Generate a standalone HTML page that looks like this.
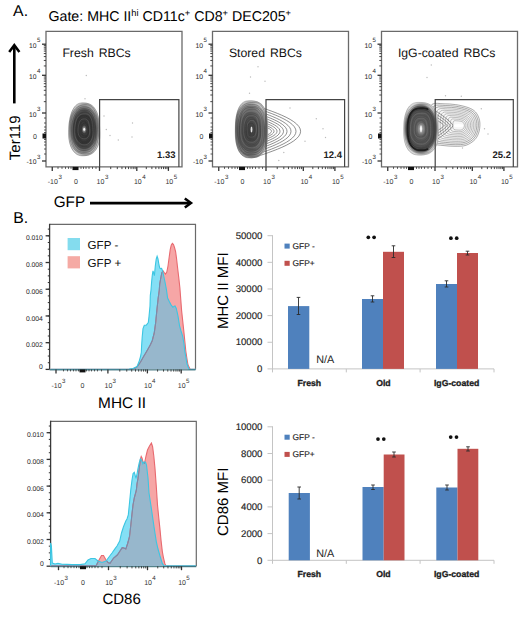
<!DOCTYPE html>
<html><head><meta charset="utf-8"><title>Figure</title>
<style>html,body{margin:0;padding:0;background:#fff;}svg{display:block;font-family:'Liberation Sans',sans-serif;text-rendering:geometricPrecision;}</style>
</head><body>
<svg width="520" height="617" viewBox="0 0 520 617">
<rect width="520" height="617" fill="#fff"/>
<text x="13.1" y="16.2" font-size="15.8" text-anchor="start" font-weight="normal" fill="#000" >A.</text>
<text x="48.5" y="20.6" font-size="14.2" fill="#000">Gate: MHC II<tspan font-size="9.3" dy="-5">hi</tspan><tspan dy="5"> CD11c</tspan><tspan font-size="9.3" dy="-5">+</tspan><tspan dy="5"> CD8</tspan><tspan font-size="9.3" dy="-5">+</tspan><tspan dy="5"> DEC205</tspan><tspan font-size="9.3" dy="-5">+</tspan></text>
<defs><radialGradient id="gb" cx="0.5" cy="0.5" r="0.5"><stop offset="0" stop-color="#fff"/><stop offset="0.05" stop-color="#999"/><stop offset="0.16" stop-color="#3a3a3a"/><stop offset="0.55" stop-color="#363636"/><stop offset="0.7" stop-color="#4c4c4c"/><stop offset="0.8" stop-color="#757575"/><stop offset="0.9" stop-color="#9c9c9c"/><stop offset="0.97" stop-color="#b4b4b4"/><stop offset="1" stop-color="#c8c8c8"/></radialGradient><radialGradient id="gb2" cx="0.46" cy="0.54" r="0.55"><stop offset="0" stop-color="#3a3a3a"/><stop offset="0.25" stop-color="#444"/><stop offset="0.55" stop-color="#555"/><stop offset="0.75" stop-color="#767676"/><stop offset="0.88" stop-color="#a0a0a0"/><stop offset="1" stop-color="#cccccc"/></radialGradient><radialGradient id="gb3" cx="0.5" cy="0.5" r="0.5"><stop offset="0" stop-color="#f0f0f0"/><stop offset="0.1" stop-color="#999"/><stop offset="0.3" stop-color="#5a5a5a"/><stop offset="0.68" stop-color="#505050"/><stop offset="0.8" stop-color="#505050"/><stop offset="0.86" stop-color="#666"/><stop offset="0.93" stop-color="#a8a8a8"/><stop offset="1" stop-color="#d8d8d8"/></radialGradient></defs>
<path d="M46,31.4 H182 V166.9 H46 Z" fill="none" stroke="#6a6a6a" stroke-width="1.3"/>
<line x1="42" y1="44.2" x2="46" y2="44.2" stroke="#333" stroke-width="1.3" />
<line x1="42" y1="75.3" x2="46" y2="75.3" stroke="#333" stroke-width="1.3" />
<line x1="42" y1="113" x2="46" y2="113" stroke="#333" stroke-width="1.3" />
<line x1="42" y1="161" x2="46" y2="161" stroke="#333" stroke-width="1.3" />
<line x1="43.8" y1="101.65" x2="46" y2="101.65" stroke="#333" stroke-width="0.9" />
<line x1="43.8" y1="95.01" x2="46" y2="95.01" stroke="#333" stroke-width="0.9" />
<line x1="43.8" y1="90.3" x2="46" y2="90.3" stroke="#333" stroke-width="0.9" />
<line x1="43.8" y1="86.65" x2="46" y2="86.65" stroke="#333" stroke-width="0.9" />
<line x1="43.8" y1="83.66" x2="46" y2="83.66" stroke="#333" stroke-width="0.9" />
<line x1="43.8" y1="81.14" x2="46" y2="81.14" stroke="#333" stroke-width="0.9" />
<line x1="43.8" y1="78.95" x2="46" y2="78.95" stroke="#333" stroke-width="0.9" />
<line x1="43.8" y1="77.03" x2="46" y2="77.03" stroke="#333" stroke-width="0.9" />
<line x1="43.8" y1="65.94" x2="46" y2="65.94" stroke="#333" stroke-width="0.9" />
<line x1="43.8" y1="60.46" x2="46" y2="60.46" stroke="#333" stroke-width="0.9" />
<line x1="43.8" y1="56.58" x2="46" y2="56.58" stroke="#333" stroke-width="0.9" />
<line x1="43.8" y1="53.56" x2="46" y2="53.56" stroke="#333" stroke-width="0.9" />
<line x1="43.8" y1="51.1" x2="46" y2="51.1" stroke="#333" stroke-width="0.9" />
<line x1="43.8" y1="49.02" x2="46" y2="49.02" stroke="#333" stroke-width="0.9" />
<line x1="43.8" y1="47.21" x2="46" y2="47.21" stroke="#333" stroke-width="0.9" />
<line x1="43.8" y1="45.62" x2="46" y2="45.62" stroke="#333" stroke-width="0.9" />
<line x1="44" y1="118" x2="46" y2="118" stroke="#333" stroke-width="0.8" />
<line x1="44" y1="123" x2="46" y2="123" stroke="#333" stroke-width="0.8" />
<line x1="44" y1="127" x2="46" y2="127" stroke="#333" stroke-width="0.8" />
<line x1="44" y1="130" x2="46" y2="130" stroke="#333" stroke-width="0.8" />
<line x1="44" y1="132.5" x2="46" y2="132.5" stroke="#333" stroke-width="0.8" />
<line x1="44" y1="139.5" x2="46" y2="139.5" stroke="#333" stroke-width="0.8" />
<line x1="44" y1="142" x2="46" y2="142" stroke="#333" stroke-width="0.8" />
<line x1="44" y1="145" x2="46" y2="145" stroke="#333" stroke-width="0.8" />
<line x1="44" y1="149" x2="46" y2="149" stroke="#333" stroke-width="0.8" />
<line x1="44" y1="154" x2="46" y2="154" stroke="#333" stroke-width="0.8" />
<rect x="42.5" y="133.5" width="3.5" height="5" fill="#111" stroke="none" stroke-width="1" />
<line x1="52.25" y1="166.9" x2="52.25" y2="170.9" stroke="#333" stroke-width="1.3" />
<line x1="99.5" y1="166.9" x2="99.5" y2="170.9" stroke="#333" stroke-width="1.3" />
<line x1="136.8" y1="166.9" x2="136.8" y2="170.9" stroke="#333" stroke-width="1.3" />
<line x1="168.4" y1="166.9" x2="168.4" y2="170.9" stroke="#333" stroke-width="1.3" />
<line x1="110.73" y1="166.9" x2="110.73" y2="169.1" stroke="#333" stroke-width="0.9" />
<line x1="117.3" y1="166.9" x2="117.3" y2="169.1" stroke="#333" stroke-width="0.9" />
<line x1="121.96" y1="166.9" x2="121.96" y2="169.1" stroke="#333" stroke-width="0.9" />
<line x1="125.57" y1="166.9" x2="125.57" y2="169.1" stroke="#333" stroke-width="0.9" />
<line x1="128.53" y1="166.9" x2="128.53" y2="169.1" stroke="#333" stroke-width="0.9" />
<line x1="131.02" y1="166.9" x2="131.02" y2="169.1" stroke="#333" stroke-width="0.9" />
<line x1="133.19" y1="166.9" x2="133.19" y2="169.1" stroke="#333" stroke-width="0.9" />
<line x1="135.09" y1="166.9" x2="135.09" y2="169.1" stroke="#333" stroke-width="0.9" />
<line x1="146.31" y1="166.9" x2="146.31" y2="169.1" stroke="#333" stroke-width="0.9" />
<line x1="151.88" y1="166.9" x2="151.88" y2="169.1" stroke="#333" stroke-width="0.9" />
<line x1="155.83" y1="166.9" x2="155.83" y2="169.1" stroke="#333" stroke-width="0.9" />
<line x1="158.89" y1="166.9" x2="158.89" y2="169.1" stroke="#333" stroke-width="0.9" />
<line x1="161.39" y1="166.9" x2="161.39" y2="169.1" stroke="#333" stroke-width="0.9" />
<line x1="163.51" y1="166.9" x2="163.51" y2="169.1" stroke="#333" stroke-width="0.9" />
<line x1="165.34" y1="166.9" x2="165.34" y2="169.1" stroke="#333" stroke-width="0.9" />
<line x1="166.95" y1="166.9" x2="166.95" y2="169.1" stroke="#333" stroke-width="0.9" />
<line x1="58" y1="166.9" x2="58" y2="168.9" stroke="#333" stroke-width="0.8" />
<line x1="62" y1="166.9" x2="62" y2="168.9" stroke="#333" stroke-width="0.8" />
<line x1="65.5" y1="166.9" x2="65.5" y2="168.9" stroke="#333" stroke-width="0.8" />
<line x1="68.5" y1="166.9" x2="68.5" y2="168.9" stroke="#333" stroke-width="0.8" />
<line x1="71" y1="166.9" x2="71" y2="168.9" stroke="#333" stroke-width="0.8" />
<line x1="73.5" y1="166.9" x2="73.5" y2="168.9" stroke="#333" stroke-width="0.8" />
<line x1="81" y1="166.9" x2="81" y2="168.9" stroke="#333" stroke-width="0.8" />
<line x1="83.5" y1="166.9" x2="83.5" y2="168.9" stroke="#333" stroke-width="0.8" />
<line x1="86" y1="166.9" x2="86" y2="168.9" stroke="#333" stroke-width="0.8" />
<line x1="89" y1="166.9" x2="89" y2="168.9" stroke="#333" stroke-width="0.8" />
<line x1="92.5" y1="166.9" x2="92.5" y2="168.9" stroke="#333" stroke-width="0.8" />
<line x1="96" y1="166.9" x2="96" y2="168.9" stroke="#333" stroke-width="0.8" />
<rect x="72.5" y="166.9" width="6" height="3.2" fill="#111" stroke="none" stroke-width="1" />
<text x="40.5" y="47.9" font-size="6.8" text-anchor="end" fill="#2a2a2a">10<tspan font-size="6.2" dx="0.6" dy="-5.6">5</tspan></text>
<text x="40.5" y="79" font-size="6.8" text-anchor="end" fill="#2a2a2a">10<tspan font-size="6.2" dx="0.6" dy="-5.6">4</tspan></text>
<text x="40.5" y="116.6" font-size="6.8" text-anchor="end" fill="#2a2a2a">10<tspan font-size="6.2" dx="0.6" dy="-5.6">3</tspan></text>
<text x="36.9" y="138.8" font-size="7" text-anchor="end" font-weight="normal" fill="#333" >0</text>
<text x="40.5" y="164.2" font-size="6.8" text-anchor="end" fill="#2a2a2a">-10<tspan font-size="6.2" dx="0.6" dy="-5.6">3</tspan></text>
<text x="54.85" y="184.3" font-size="7" text-anchor="middle" fill="#333">-10<tspan font-size="6.2" dx="0.6" dy="-5.6">3</tspan></text>
<text x="102.5" y="184.3" font-size="7" text-anchor="middle" fill="#333">10<tspan font-size="6.2" dx="0.6" dy="-5.6">3</tspan></text>
<text x="139.8" y="184.3" font-size="7" text-anchor="middle" fill="#333">10<tspan font-size="6.2" dx="0.6" dy="-5.6">4</tspan></text>
<text x="171.4" y="184.3" font-size="7" text-anchor="middle" fill="#333">10<tspan font-size="6.2" dx="0.6" dy="-5.6">5</tspan></text>
<text x="76" y="184.3" font-size="7" text-anchor="middle" font-weight="normal" fill="#333" >0</text>
<path d="M212.5,31.4 H348.5 V166.9 H212.5 Z" fill="none" stroke="#6a6a6a" stroke-width="1.3"/>
<line x1="208.5" y1="44.2" x2="212.5" y2="44.2" stroke="#333" stroke-width="1.3" />
<line x1="208.5" y1="75.3" x2="212.5" y2="75.3" stroke="#333" stroke-width="1.3" />
<line x1="208.5" y1="113" x2="212.5" y2="113" stroke="#333" stroke-width="1.3" />
<line x1="208.5" y1="161" x2="212.5" y2="161" stroke="#333" stroke-width="1.3" />
<line x1="210.3" y1="101.65" x2="212.5" y2="101.65" stroke="#333" stroke-width="0.9" />
<line x1="210.3" y1="95.01" x2="212.5" y2="95.01" stroke="#333" stroke-width="0.9" />
<line x1="210.3" y1="90.3" x2="212.5" y2="90.3" stroke="#333" stroke-width="0.9" />
<line x1="210.3" y1="86.65" x2="212.5" y2="86.65" stroke="#333" stroke-width="0.9" />
<line x1="210.3" y1="83.66" x2="212.5" y2="83.66" stroke="#333" stroke-width="0.9" />
<line x1="210.3" y1="81.14" x2="212.5" y2="81.14" stroke="#333" stroke-width="0.9" />
<line x1="210.3" y1="78.95" x2="212.5" y2="78.95" stroke="#333" stroke-width="0.9" />
<line x1="210.3" y1="77.03" x2="212.5" y2="77.03" stroke="#333" stroke-width="0.9" />
<line x1="210.3" y1="65.94" x2="212.5" y2="65.94" stroke="#333" stroke-width="0.9" />
<line x1="210.3" y1="60.46" x2="212.5" y2="60.46" stroke="#333" stroke-width="0.9" />
<line x1="210.3" y1="56.58" x2="212.5" y2="56.58" stroke="#333" stroke-width="0.9" />
<line x1="210.3" y1="53.56" x2="212.5" y2="53.56" stroke="#333" stroke-width="0.9" />
<line x1="210.3" y1="51.1" x2="212.5" y2="51.1" stroke="#333" stroke-width="0.9" />
<line x1="210.3" y1="49.02" x2="212.5" y2="49.02" stroke="#333" stroke-width="0.9" />
<line x1="210.3" y1="47.21" x2="212.5" y2="47.21" stroke="#333" stroke-width="0.9" />
<line x1="210.3" y1="45.62" x2="212.5" y2="45.62" stroke="#333" stroke-width="0.9" />
<line x1="210.5" y1="118" x2="212.5" y2="118" stroke="#333" stroke-width="0.8" />
<line x1="210.5" y1="123" x2="212.5" y2="123" stroke="#333" stroke-width="0.8" />
<line x1="210.5" y1="127" x2="212.5" y2="127" stroke="#333" stroke-width="0.8" />
<line x1="210.5" y1="130" x2="212.5" y2="130" stroke="#333" stroke-width="0.8" />
<line x1="210.5" y1="132.5" x2="212.5" y2="132.5" stroke="#333" stroke-width="0.8" />
<line x1="210.5" y1="139.5" x2="212.5" y2="139.5" stroke="#333" stroke-width="0.8" />
<line x1="210.5" y1="142" x2="212.5" y2="142" stroke="#333" stroke-width="0.8" />
<line x1="210.5" y1="145" x2="212.5" y2="145" stroke="#333" stroke-width="0.8" />
<line x1="210.5" y1="149" x2="212.5" y2="149" stroke="#333" stroke-width="0.8" />
<line x1="210.5" y1="154" x2="212.5" y2="154" stroke="#333" stroke-width="0.8" />
<rect x="209" y="133.5" width="3.5" height="5" fill="#111" stroke="none" stroke-width="1" />
<line x1="218.75" y1="166.9" x2="218.75" y2="170.9" stroke="#333" stroke-width="1.3" />
<line x1="266" y1="166.9" x2="266" y2="170.9" stroke="#333" stroke-width="1.3" />
<line x1="303.3" y1="166.9" x2="303.3" y2="170.9" stroke="#333" stroke-width="1.3" />
<line x1="334.9" y1="166.9" x2="334.9" y2="170.9" stroke="#333" stroke-width="1.3" />
<line x1="277.23" y1="166.9" x2="277.23" y2="169.1" stroke="#333" stroke-width="0.9" />
<line x1="283.8" y1="166.9" x2="283.8" y2="169.1" stroke="#333" stroke-width="0.9" />
<line x1="288.46" y1="166.9" x2="288.46" y2="169.1" stroke="#333" stroke-width="0.9" />
<line x1="292.07" y1="166.9" x2="292.07" y2="169.1" stroke="#333" stroke-width="0.9" />
<line x1="295.03" y1="166.9" x2="295.03" y2="169.1" stroke="#333" stroke-width="0.9" />
<line x1="297.52" y1="166.9" x2="297.52" y2="169.1" stroke="#333" stroke-width="0.9" />
<line x1="299.69" y1="166.9" x2="299.69" y2="169.1" stroke="#333" stroke-width="0.9" />
<line x1="301.59" y1="166.9" x2="301.59" y2="169.1" stroke="#333" stroke-width="0.9" />
<line x1="312.81" y1="166.9" x2="312.81" y2="169.1" stroke="#333" stroke-width="0.9" />
<line x1="318.38" y1="166.9" x2="318.38" y2="169.1" stroke="#333" stroke-width="0.9" />
<line x1="322.33" y1="166.9" x2="322.33" y2="169.1" stroke="#333" stroke-width="0.9" />
<line x1="325.39" y1="166.9" x2="325.39" y2="169.1" stroke="#333" stroke-width="0.9" />
<line x1="327.89" y1="166.9" x2="327.89" y2="169.1" stroke="#333" stroke-width="0.9" />
<line x1="330.01" y1="166.9" x2="330.01" y2="169.1" stroke="#333" stroke-width="0.9" />
<line x1="331.84" y1="166.9" x2="331.84" y2="169.1" stroke="#333" stroke-width="0.9" />
<line x1="333.45" y1="166.9" x2="333.45" y2="169.1" stroke="#333" stroke-width="0.9" />
<line x1="224.5" y1="166.9" x2="224.5" y2="168.9" stroke="#333" stroke-width="0.8" />
<line x1="228.5" y1="166.9" x2="228.5" y2="168.9" stroke="#333" stroke-width="0.8" />
<line x1="232" y1="166.9" x2="232" y2="168.9" stroke="#333" stroke-width="0.8" />
<line x1="235" y1="166.9" x2="235" y2="168.9" stroke="#333" stroke-width="0.8" />
<line x1="237.5" y1="166.9" x2="237.5" y2="168.9" stroke="#333" stroke-width="0.8" />
<line x1="240" y1="166.9" x2="240" y2="168.9" stroke="#333" stroke-width="0.8" />
<line x1="247.5" y1="166.9" x2="247.5" y2="168.9" stroke="#333" stroke-width="0.8" />
<line x1="250" y1="166.9" x2="250" y2="168.9" stroke="#333" stroke-width="0.8" />
<line x1="252.5" y1="166.9" x2="252.5" y2="168.9" stroke="#333" stroke-width="0.8" />
<line x1="255.5" y1="166.9" x2="255.5" y2="168.9" stroke="#333" stroke-width="0.8" />
<line x1="259" y1="166.9" x2="259" y2="168.9" stroke="#333" stroke-width="0.8" />
<line x1="262.5" y1="166.9" x2="262.5" y2="168.9" stroke="#333" stroke-width="0.8" />
<rect x="239" y="166.9" width="6" height="3.2" fill="#111" stroke="none" stroke-width="1" />
<text x="207" y="47.9" font-size="6.8" text-anchor="end" fill="#2a2a2a">10<tspan font-size="6.2" dx="0.6" dy="-5.6">5</tspan></text>
<text x="207" y="79" font-size="6.8" text-anchor="end" fill="#2a2a2a">10<tspan font-size="6.2" dx="0.6" dy="-5.6">4</tspan></text>
<text x="207" y="116.6" font-size="6.8" text-anchor="end" fill="#2a2a2a">10<tspan font-size="6.2" dx="0.6" dy="-5.6">3</tspan></text>
<text x="203.4" y="138.8" font-size="7" text-anchor="end" font-weight="normal" fill="#333" >0</text>
<text x="207" y="164.2" font-size="6.8" text-anchor="end" fill="#2a2a2a">-10<tspan font-size="6.2" dx="0.6" dy="-5.6">3</tspan></text>
<text x="221.35" y="184.3" font-size="7" text-anchor="middle" fill="#333">-10<tspan font-size="6.2" dx="0.6" dy="-5.6">3</tspan></text>
<text x="269" y="184.3" font-size="7" text-anchor="middle" fill="#333">10<tspan font-size="6.2" dx="0.6" dy="-5.6">3</tspan></text>
<text x="306.3" y="184.3" font-size="7" text-anchor="middle" fill="#333">10<tspan font-size="6.2" dx="0.6" dy="-5.6">4</tspan></text>
<text x="337.9" y="184.3" font-size="7" text-anchor="middle" fill="#333">10<tspan font-size="6.2" dx="0.6" dy="-5.6">5</tspan></text>
<text x="242.5" y="184.3" font-size="7" text-anchor="middle" font-weight="normal" fill="#333" >0</text>
<path d="M381.5,31.4 H517.5 V166.9 H381.5 Z" fill="none" stroke="#6a6a6a" stroke-width="1.3"/>
<line x1="377.5" y1="44.2" x2="381.5" y2="44.2" stroke="#333" stroke-width="1.3" />
<line x1="377.5" y1="75.3" x2="381.5" y2="75.3" stroke="#333" stroke-width="1.3" />
<line x1="377.5" y1="113" x2="381.5" y2="113" stroke="#333" stroke-width="1.3" />
<line x1="377.5" y1="161" x2="381.5" y2="161" stroke="#333" stroke-width="1.3" />
<line x1="379.3" y1="101.65" x2="381.5" y2="101.65" stroke="#333" stroke-width="0.9" />
<line x1="379.3" y1="95.01" x2="381.5" y2="95.01" stroke="#333" stroke-width="0.9" />
<line x1="379.3" y1="90.3" x2="381.5" y2="90.3" stroke="#333" stroke-width="0.9" />
<line x1="379.3" y1="86.65" x2="381.5" y2="86.65" stroke="#333" stroke-width="0.9" />
<line x1="379.3" y1="83.66" x2="381.5" y2="83.66" stroke="#333" stroke-width="0.9" />
<line x1="379.3" y1="81.14" x2="381.5" y2="81.14" stroke="#333" stroke-width="0.9" />
<line x1="379.3" y1="78.95" x2="381.5" y2="78.95" stroke="#333" stroke-width="0.9" />
<line x1="379.3" y1="77.03" x2="381.5" y2="77.03" stroke="#333" stroke-width="0.9" />
<line x1="379.3" y1="65.94" x2="381.5" y2="65.94" stroke="#333" stroke-width="0.9" />
<line x1="379.3" y1="60.46" x2="381.5" y2="60.46" stroke="#333" stroke-width="0.9" />
<line x1="379.3" y1="56.58" x2="381.5" y2="56.58" stroke="#333" stroke-width="0.9" />
<line x1="379.3" y1="53.56" x2="381.5" y2="53.56" stroke="#333" stroke-width="0.9" />
<line x1="379.3" y1="51.1" x2="381.5" y2="51.1" stroke="#333" stroke-width="0.9" />
<line x1="379.3" y1="49.02" x2="381.5" y2="49.02" stroke="#333" stroke-width="0.9" />
<line x1="379.3" y1="47.21" x2="381.5" y2="47.21" stroke="#333" stroke-width="0.9" />
<line x1="379.3" y1="45.62" x2="381.5" y2="45.62" stroke="#333" stroke-width="0.9" />
<line x1="379.5" y1="118" x2="381.5" y2="118" stroke="#333" stroke-width="0.8" />
<line x1="379.5" y1="123" x2="381.5" y2="123" stroke="#333" stroke-width="0.8" />
<line x1="379.5" y1="127" x2="381.5" y2="127" stroke="#333" stroke-width="0.8" />
<line x1="379.5" y1="130" x2="381.5" y2="130" stroke="#333" stroke-width="0.8" />
<line x1="379.5" y1="132.5" x2="381.5" y2="132.5" stroke="#333" stroke-width="0.8" />
<line x1="379.5" y1="139.5" x2="381.5" y2="139.5" stroke="#333" stroke-width="0.8" />
<line x1="379.5" y1="142" x2="381.5" y2="142" stroke="#333" stroke-width="0.8" />
<line x1="379.5" y1="145" x2="381.5" y2="145" stroke="#333" stroke-width="0.8" />
<line x1="379.5" y1="149" x2="381.5" y2="149" stroke="#333" stroke-width="0.8" />
<line x1="379.5" y1="154" x2="381.5" y2="154" stroke="#333" stroke-width="0.8" />
<rect x="378" y="133.5" width="3.5" height="5" fill="#111" stroke="none" stroke-width="1" />
<line x1="387.75" y1="166.9" x2="387.75" y2="170.9" stroke="#333" stroke-width="1.3" />
<line x1="435" y1="166.9" x2="435" y2="170.9" stroke="#333" stroke-width="1.3" />
<line x1="472.3" y1="166.9" x2="472.3" y2="170.9" stroke="#333" stroke-width="1.3" />
<line x1="503.9" y1="166.9" x2="503.9" y2="170.9" stroke="#333" stroke-width="1.3" />
<line x1="446.23" y1="166.9" x2="446.23" y2="169.1" stroke="#333" stroke-width="0.9" />
<line x1="452.8" y1="166.9" x2="452.8" y2="169.1" stroke="#333" stroke-width="0.9" />
<line x1="457.46" y1="166.9" x2="457.46" y2="169.1" stroke="#333" stroke-width="0.9" />
<line x1="461.07" y1="166.9" x2="461.07" y2="169.1" stroke="#333" stroke-width="0.9" />
<line x1="464.03" y1="166.9" x2="464.03" y2="169.1" stroke="#333" stroke-width="0.9" />
<line x1="466.52" y1="166.9" x2="466.52" y2="169.1" stroke="#333" stroke-width="0.9" />
<line x1="468.69" y1="166.9" x2="468.69" y2="169.1" stroke="#333" stroke-width="0.9" />
<line x1="470.59" y1="166.9" x2="470.59" y2="169.1" stroke="#333" stroke-width="0.9" />
<line x1="481.81" y1="166.9" x2="481.81" y2="169.1" stroke="#333" stroke-width="0.9" />
<line x1="487.38" y1="166.9" x2="487.38" y2="169.1" stroke="#333" stroke-width="0.9" />
<line x1="491.33" y1="166.9" x2="491.33" y2="169.1" stroke="#333" stroke-width="0.9" />
<line x1="494.39" y1="166.9" x2="494.39" y2="169.1" stroke="#333" stroke-width="0.9" />
<line x1="496.89" y1="166.9" x2="496.89" y2="169.1" stroke="#333" stroke-width="0.9" />
<line x1="499.01" y1="166.9" x2="499.01" y2="169.1" stroke="#333" stroke-width="0.9" />
<line x1="500.84" y1="166.9" x2="500.84" y2="169.1" stroke="#333" stroke-width="0.9" />
<line x1="502.45" y1="166.9" x2="502.45" y2="169.1" stroke="#333" stroke-width="0.9" />
<line x1="393.5" y1="166.9" x2="393.5" y2="168.9" stroke="#333" stroke-width="0.8" />
<line x1="397.5" y1="166.9" x2="397.5" y2="168.9" stroke="#333" stroke-width="0.8" />
<line x1="401" y1="166.9" x2="401" y2="168.9" stroke="#333" stroke-width="0.8" />
<line x1="404" y1="166.9" x2="404" y2="168.9" stroke="#333" stroke-width="0.8" />
<line x1="406.5" y1="166.9" x2="406.5" y2="168.9" stroke="#333" stroke-width="0.8" />
<line x1="409" y1="166.9" x2="409" y2="168.9" stroke="#333" stroke-width="0.8" />
<line x1="416.5" y1="166.9" x2="416.5" y2="168.9" stroke="#333" stroke-width="0.8" />
<line x1="419" y1="166.9" x2="419" y2="168.9" stroke="#333" stroke-width="0.8" />
<line x1="421.5" y1="166.9" x2="421.5" y2="168.9" stroke="#333" stroke-width="0.8" />
<line x1="424.5" y1="166.9" x2="424.5" y2="168.9" stroke="#333" stroke-width="0.8" />
<line x1="428" y1="166.9" x2="428" y2="168.9" stroke="#333" stroke-width="0.8" />
<line x1="431.5" y1="166.9" x2="431.5" y2="168.9" stroke="#333" stroke-width="0.8" />
<rect x="408" y="166.9" width="6" height="3.2" fill="#111" stroke="none" stroke-width="1" />
<text x="376" y="47.9" font-size="6.8" text-anchor="end" fill="#2a2a2a">10<tspan font-size="6.2" dx="0.6" dy="-5.6">5</tspan></text>
<text x="376" y="79" font-size="6.8" text-anchor="end" fill="#2a2a2a">10<tspan font-size="6.2" dx="0.6" dy="-5.6">4</tspan></text>
<text x="376" y="116.6" font-size="6.8" text-anchor="end" fill="#2a2a2a">10<tspan font-size="6.2" dx="0.6" dy="-5.6">3</tspan></text>
<text x="372.4" y="138.8" font-size="7" text-anchor="end" font-weight="normal" fill="#333" >0</text>
<text x="376" y="164.2" font-size="6.8" text-anchor="end" fill="#2a2a2a">-10<tspan font-size="6.2" dx="0.6" dy="-5.6">3</tspan></text>
<text x="390.35" y="184.3" font-size="7" text-anchor="middle" fill="#333">-10<tspan font-size="6.2" dx="0.6" dy="-5.6">3</tspan></text>
<text x="438" y="184.3" font-size="7" text-anchor="middle" fill="#333">10<tspan font-size="6.2" dx="0.6" dy="-5.6">3</tspan></text>
<text x="475.3" y="184.3" font-size="7" text-anchor="middle" fill="#333">10<tspan font-size="6.2" dx="0.6" dy="-5.6">4</tspan></text>
<text x="506.9" y="184.3" font-size="7" text-anchor="middle" fill="#333">10<tspan font-size="6.2" dx="0.6" dy="-5.6">5</tspan></text>
<text x="411.5" y="184.3" font-size="7" text-anchor="middle" font-weight="normal" fill="#333" >0</text>
<path d="M100,129.4 L100.03,132.89 L99.94,135.61 L99.75,138.06 L99.45,140.32 L99.04,142.43 L98.53,144.38 L97.92,146.2 L97.2,147.87 L96.39,149.4 L95.48,150.78 L94.48,152.01 L93.38,153.08 L92.19,154 L90.91,154.75 L89.52,155.34 L88.02,155.76 L86.35,156.02 L84.2,156.1 L82.05,156.02 L80.38,155.76 L78.88,155.34 L77.49,154.75 L76.21,154 L75.02,153.08 L73.92,152.01 L72.92,150.78 L72.01,149.4 L71.2,147.87 L70.48,146.2 L69.87,144.38 L69.36,142.43 L68.95,140.32 L68.65,138.06 L68.46,135.61 L68.37,132.89 L68.4,129.4 L68.53,125.91 L68.75,123.19 L69.05,120.74 L69.44,118.48 L69.93,116.37 L70.5,114.42 L71.16,112.6 L71.9,110.93 L72.72,109.4 L73.62,108.02 L74.59,106.79 L75.65,105.72 L76.78,104.8 L77.98,104.05 L79.28,103.46 L80.67,103.04 L82.21,102.78 L84.2,102.7 L86.19,102.78 L87.73,103.04 L89.12,103.46 L90.42,104.05 L91.62,104.8 L92.75,105.72 L93.81,106.79 L94.78,108.02 L95.68,109.4 L96.5,110.93 L97.24,112.6 L97.9,114.42 L98.47,116.37 L98.96,118.48 L99.35,120.74 L99.65,123.19 L99.87,125.91Z" fill="url(#gb)"/>
<path d="M99.71,129.4 L99.81,132.87 L99.79,135.6 L99.66,138.07 L99.4,140.37 L99.01,142.5 L98.48,144.45 L97.82,146.22 L97.05,147.8 L96.17,149.2 L95.21,150.42 L94.17,151.5 L93.07,152.45 L91.9,153.28 L90.66,154.01 L89.34,154.63 L87.9,155.15 L86.29,155.53 L84.2,155.75 L82.08,155.79 L80.43,155.64 L78.93,155.27 L77.56,154.7 L76.29,153.94 L75.13,152.98 L74.07,151.87 L73.1,150.61 L72.22,149.21 L71.42,147.69 L70.72,146.05 L70.1,144.26 L69.57,142.34 L69.16,140.26 L68.85,138.01 L68.67,135.57 L68.62,132.87 L68.71,129.4 L68.91,125.96 L69.18,123.32 L69.54,120.96 L69.96,118.78 L70.44,116.74 L70.97,114.82 L71.56,112.99 L72.22,111.26 L72.95,109.64 L73.76,108.14 L74.67,106.79 L75.68,105.61 L76.78,104.64 L77.99,103.88 L79.29,103.34 L80.7,103.02 L82.24,102.89 L84.2,102.95 L86.14,103.16 L87.64,103.51 L88.99,103.98 L90.24,104.57 L91.42,105.29 L92.53,106.15 L93.58,107.16 L94.55,108.32 L95.44,109.66 L96.25,111.16 L96.97,112.82 L97.6,114.63 L98.14,116.58 L98.59,118.67 L98.97,120.89 L99.28,123.29 L99.53,125.95Z" fill="none" stroke="#1a1a1a" stroke-opacity="0.51" stroke-width="0.55"/>
<path d="M98.61,129.34 L98.64,132.55 L98.54,135.03 L98.34,137.27 L98.04,139.32 L97.66,141.24 L97.2,143.03 L96.67,144.72 L96.06,146.3 L95.37,147.79 L94.59,149.17 L93.72,150.41 L92.74,151.5 L91.65,152.41 L90.46,153.12 L89.16,153.61 L87.75,153.9 L86.19,153.98 L84.22,153.88 L82.27,153.64 L80.78,153.26 L79.45,152.78 L78.22,152.21 L77.07,151.55 L75.97,150.79 L74.95,149.91 L73.98,148.9 L73.1,147.74 L72.3,146.42 L71.61,144.92 L71.02,143.26 L70.55,141.44 L70.19,139.47 L69.94,137.36 L69.79,135.08 L69.73,132.56 L69.77,129.34 L69.89,126.12 L70.07,123.61 L70.32,121.33 L70.66,119.22 L71.09,117.26 L71.62,115.44 L72.25,113.79 L72.97,112.3 L73.76,110.97 L74.63,109.8 L75.56,108.79 L76.54,107.9 L77.57,107.13 L78.65,106.45 L79.8,105.86 L81.04,105.37 L82.42,104.98 L84.22,104.73 L86.05,104.64 L87.49,104.73 L88.8,105.03 L90.01,105.54 L91.13,106.27 L92.15,107.19 L93.09,108.29 L93.94,109.54 L94.7,110.92 L95.4,112.41 L96.04,113.99 L96.61,115.67 L97.13,117.46 L97.58,119.37 L97.97,121.42 L98.27,123.65 L98.48,126.13Z" fill="none" stroke="#1a1a1a" stroke-opacity="0.51" stroke-width="0.55"/>
<path d="M97.5,129.5 L97.42,132.46 L97.25,134.72 L97.01,136.74 L96.71,138.6 L96.36,140.35 L95.96,142 L95.5,143.58 L94.97,145.07 L94.36,146.46 L93.65,147.74 L92.84,148.89 L91.94,149.88 L90.93,150.69 L89.83,151.33 L88.64,151.8 L87.35,152.11 L85.93,152.27 L84.11,152.31 L82.29,152.22 L80.88,152.01 L79.6,151.67 L78.42,151.21 L77.32,150.59 L76.3,149.82 L75.37,148.89 L74.54,147.8 L73.81,146.55 L73.18,145.17 L72.64,143.67 L72.19,142.08 L71.81,140.39 L71.5,138.61 L71.24,136.73 L71.03,134.7 L70.89,132.44 L70.82,129.5 L70.83,126.51 L70.91,124.15 L71.09,121.99 L71.39,119.99 L71.79,118.15 L72.31,116.47 L72.92,114.95 L73.61,113.58 L74.37,112.38 L75.19,111.3 L76.05,110.36 L76.96,109.51 L77.91,108.77 L78.92,108.13 L79.99,107.6 L81.15,107.19 L82.44,106.92 L84.11,106.8 L85.78,106.86 L87.08,107.08 L88.25,107.47 L89.33,108 L90.34,108.67 L91.28,109.46 L92.16,110.36 L93,111.36 L93.8,112.46 L94.54,113.69 L95.23,115.04 L95.85,116.54 L96.38,118.19 L96.82,120 L97.15,121.97 L97.37,124.12 L97.48,126.49Z" fill="none" stroke="#1a1a1a" stroke-opacity="0.51" stroke-width="0.55"/>
<path d="M96.16,129.39 L96.2,132.07 L96.17,134.17 L96.08,136.08 L95.91,137.88 L95.67,139.58 L95.33,141.17 L94.89,142.64 L94.35,143.99 L93.71,145.2 L92.99,146.26 L92.19,147.2 L91.32,148.01 L90.39,148.71 L89.39,149.31 L88.32,149.79 L87.15,150.17 L85.86,150.42 L84.17,150.54 L82.49,150.5 L81.18,150.29 L80.01,149.91 L78.94,149.35 L77.98,148.65 L77.1,147.81 L76.31,146.86 L75.59,145.82 L74.93,144.71 L74.32,143.53 L73.75,142.28 L73.23,140.95 L72.76,139.51 L72.35,137.95 L72.01,136.23 L71.78,134.33 L71.65,132.18 L71.64,129.39 L71.75,126.59 L71.96,124.44 L72.26,122.51 L72.63,120.77 L73.08,119.16 L73.57,117.68 L74.12,116.31 L74.7,115.03 L75.34,113.84 L76.02,112.75 L76.76,111.76 L77.56,110.89 L78.43,110.15 L79.36,109.57 L80.37,109.13 L81.45,108.85 L82.65,108.7 L84.17,108.69 L85.7,108.78 L86.88,108.97 L87.96,109.25 L88.98,109.62 L89.94,110.09 L90.86,110.68 L91.74,111.41 L92.55,112.3 L93.29,113.35 L93.95,114.57 L94.51,115.94 L94.98,117.46 L95.35,119.09 L95.63,120.83 L95.84,122.66 L95.99,124.6 L96.09,126.71Z" fill="none" stroke="#1a1a1a" stroke-opacity="0.51" stroke-width="0.55"/>
<path d="M95.69,129.22 L95.8,131.77 L95.8,133.77 L95.69,135.58 L95.46,137.24 L95.13,138.75 L94.7,140.12 L94.18,141.35 L93.6,142.45 L92.96,143.43 L92.27,144.32 L91.55,145.13 L90.78,145.87 L89.96,146.54 L89.08,147.12 L88.12,147.61 L87.08,147.99 L85.91,148.23 L84.39,148.32 L82.87,148.27 L81.69,148.08 L80.63,147.75 L79.66,147.3 L78.76,146.75 L77.91,146.11 L77.13,145.38 L76.39,144.56 L75.7,143.64 L75.07,142.61 L74.52,141.45 L74.05,140.16 L73.67,138.74 L73.4,137.18 L73.23,135.5 L73.17,133.7 L73.2,131.72 L73.32,129.22 L73.5,126.77 L73.71,124.89 L73.95,123.19 L74.22,121.61 L74.52,120.11 L74.85,118.68 L75.24,117.31 L75.69,116.01 L76.21,114.81 L76.81,113.73 L77.48,112.78 L78.23,111.99 L79.05,111.34 L79.93,110.85 L80.87,110.5 L81.88,110.27 L82.98,110.14 L84.39,110.12 L85.8,110.19 L86.89,110.36 L87.88,110.63 L88.8,111.03 L89.67,111.56 L90.46,112.22 L91.2,113.03 L91.86,113.97 L92.46,115.02 L92.99,116.17 L93.46,117.41 L93.89,118.72 L94.28,120.1 L94.64,121.56 L94.96,123.12 L95.25,124.81 L95.5,126.72Z" fill="none" stroke="#1a1a1a" stroke-opacity="0.51" stroke-width="0.55"/>
<path d="M94.2,129.71 L94.19,131.94 L94.11,133.67 L93.98,135.23 L93.81,136.69 L93.59,138.06 L93.32,139.38 L92.99,140.63 L92.6,141.81 L92.13,142.91 L91.58,143.89 L90.93,144.74 L90.21,145.44 L89.4,145.98 L88.53,146.36 L87.6,146.59 L86.61,146.7 L85.54,146.71 L84.18,146.64 L82.84,146.51 L81.8,146.33 L80.86,146.1 L79.97,145.8 L79.14,145.42 L78.35,144.94 L77.61,144.34 L76.93,143.62 L76.32,142.76 L75.79,141.77 L75.34,140.67 L74.96,139.47 L74.65,138.17 L74.41,136.79 L74.22,135.32 L74.08,133.74 L74.01,131.98 L74,129.71 L74.05,127.42 L74.17,125.64 L74.36,124.03 L74.63,122.55 L74.98,121.21 L75.4,119.99 L75.88,118.89 L76.42,117.9 L76.99,117.02 L77.59,116.22 L78.21,115.48 L78.86,114.79 L79.54,114.14 L80.27,113.55 L81.05,113.02 L81.92,112.58 L82.9,112.26 L84.18,112.09 L85.48,112.07 L86.49,112.22 L87.4,112.53 L88.23,112.99 L88.99,113.59 L89.68,114.29 L90.32,115.08 L90.91,115.94 L91.46,116.87 L91.97,117.86 L92.45,118.93 L92.88,120.07 L93.27,121.32 L93.59,122.66 L93.85,124.12 L94.03,125.7 L94.15,127.46Z" fill="none" stroke="#1a1a1a" stroke-opacity="0.30" stroke-width="0.55"/>
<path d="M92.79,129.17 L92.87,131.18 L92.88,132.75 L92.82,134.2 L92.68,135.53 L92.46,136.77 L92.17,137.92 L91.8,138.96 L91.38,139.91 L90.9,140.78 L90.37,141.57 L89.8,142.29 L89.19,142.94 L88.52,143.52 L87.79,144.01 L87,144.41 L86.13,144.68 L85.17,144.82 L83.92,144.82 L82.68,144.68 L81.74,144.42 L80.91,144.05 L80.16,143.59 L79.47,143.06 L78.83,142.49 L78.22,141.87 L77.65,141.22 L77.1,140.51 L76.58,139.74 L76.1,138.88 L75.67,137.92 L75.3,136.84 L75.01,135.64 L74.81,134.31 L74.7,132.86 L74.68,131.24 L74.75,129.17 L74.89,127.13 L75.07,125.57 L75.29,124.18 L75.55,122.89 L75.84,121.7 L76.16,120.57 L76.52,119.51 L76.93,118.53 L77.38,117.63 L77.89,116.82 L78.45,116.12 L79.06,115.53 L79.71,115.05 L80.41,114.67 L81.15,114.38 L81.94,114.16 L82.8,114.01 L83.92,113.92 L85.04,113.88 L85.93,113.91 L86.76,114.02 L87.53,114.24 L88.26,114.59 L88.94,115.07 L89.57,115.7 L90.12,116.47 L90.61,117.36 L91.03,118.35 L91.38,119.43 L91.68,120.57 L91.93,121.76 L92.15,123 L92.35,124.29 L92.52,125.67 L92.67,127.19Z" fill="none" stroke="#9a9a9a" stroke-opacity="0.45" stroke-width="0.55"/>
<path d="M92.18,129.32 L92.17,131.08 L92.11,132.45 L92.02,133.68 L91.89,134.83 L91.71,135.92 L91.47,136.93 L91.18,137.87 L90.83,138.73 L90.41,139.49 L89.95,140.17 L89.43,140.76 L88.87,141.28 L88.28,141.73 L87.65,142.13 L86.97,142.47 L86.23,142.76 L85.4,142.99 L84.31,143.14 L83.21,143.2 L82.34,143.14 L81.56,142.95 L80.84,142.63 L80.2,142.17 L79.62,141.6 L79.11,140.93 L78.67,140.18 L78.28,139.37 L77.93,138.53 L77.62,137.65 L77.33,136.74 L77.06,135.79 L76.82,134.77 L76.61,133.68 L76.44,132.47 L76.34,131.11 L76.3,129.32 L76.33,127.52 L76.43,126.11 L76.59,124.84 L76.81,123.69 L77.08,122.62 L77.39,121.63 L77.73,120.72 L78.11,119.87 L78.52,119.07 L78.96,118.34 L79.44,117.68 L79.96,117.1 L80.53,116.62 L81.15,116.25 L81.82,115.99 L82.53,115.85 L83.32,115.82 L84.31,115.89 L85.29,116.03 L86.04,116.23 L86.71,116.47 L87.35,116.75 L87.95,117.06 L88.54,117.42 L89.11,117.84 L89.66,118.35 L90.17,118.95 L90.64,119.67 L91.06,120.5 L91.41,121.44 L91.69,122.49 L91.89,123.62 L92.04,124.84 L92.13,126.14 L92.17,127.54Z" fill="none" stroke="#1a1a1a" stroke-opacity="0.30" stroke-width="0.55"/>
<path d="M91.5,129.82 L91.56,131.4 L91.55,132.63 L91.48,133.75 L91.34,134.78 L91.13,135.71 L90.86,136.54 L90.53,137.28 L90.15,137.93 L89.74,138.5 L89.31,139.02 L88.86,139.49 L88.4,139.94 L87.91,140.35 L87.38,140.75 L86.82,141.1 L86.19,141.4 L85.48,141.63 L84.54,141.77 L83.59,141.8 L82.85,141.71 L82.18,141.52 L81.58,141.22 L81.03,140.84 L80.52,140.38 L80.06,139.86 L79.63,139.29 L79.24,138.67 L78.89,138 L78.57,137.27 L78.29,136.48 L78.05,135.62 L77.88,134.68 L77.76,133.66 L77.7,132.56 L77.71,131.35 L77.77,129.82 L77.87,128.31 L78,127.14 L78.14,126.1 L78.3,125.12 L78.48,124.19 L78.68,123.29 L78.9,122.42 L79.16,121.59 L79.47,120.82 L79.82,120.11 L80.24,119.5 L80.7,118.99 L81.22,118.6 L81.77,118.33 L82.37,118.17 L83,118.09 L83.68,118.1 L84.54,118.16 L85.39,118.26 L86.04,118.4 L86.64,118.58 L87.2,118.81 L87.72,119.09 L88.23,119.44 L88.7,119.87 L89.13,120.38 L89.53,120.98 L89.88,121.66 L90.19,122.42 L90.46,123.23 L90.7,124.1 L90.91,125.02 L91.1,126.01 L91.26,127.07 L91.39,128.26Z" fill="none" stroke="#1a1a1a" stroke-opacity="0.30" stroke-width="0.55"/>
<path d="M89.69,128.87 L89.77,130.18 L89.79,131.22 L89.76,132.17 L89.67,133.05 L89.52,133.85 L89.32,134.59 L89.06,135.25 L88.77,135.85 L88.45,136.39 L88.1,136.88 L87.72,137.32 L87.32,137.71 L86.89,138.07 L86.42,138.37 L85.92,138.6 L85.36,138.77 L84.75,138.85 L83.96,138.85 L83.18,138.77 L82.58,138.61 L82.05,138.39 L81.56,138.12 L81.11,137.81 L80.69,137.48 L80.29,137.12 L79.9,136.73 L79.52,136.3 L79.17,135.81 L78.85,135.26 L78.57,134.62 L78.35,133.9 L78.18,133.1 L78.07,132.22 L78.03,131.26 L78.05,130.2 L78.13,128.87 L78.24,127.57 L78.37,126.58 L78.52,125.7 L78.69,124.88 L78.86,124.12 L79.05,123.39 L79.27,122.7 L79.51,122.04 L79.78,121.44 L80.09,120.89 L80.44,120.41 L80.83,120.01 L81.24,119.68 L81.69,119.42 L82.16,119.21 L82.67,119.06 L83.24,118.96 L83.96,118.89 L84.69,118.87 L85.27,118.9 L85.79,119 L86.29,119.17 L86.75,119.43 L87.17,119.78 L87.56,120.22 L87.9,120.75 L88.19,121.35 L88.44,122 L88.65,122.7 L88.84,123.42 L89.01,124.16 L89.17,124.94 L89.32,125.75 L89.46,126.62 L89.58,127.59Z" fill="none" stroke="#9a9a9a" stroke-opacity="0.45" stroke-width="0.55"/>
<path d="M88.54,129.66 L88.54,130.73 L88.52,131.55 L88.47,132.3 L88.4,133.01 L88.3,133.68 L88.17,134.31 L88.01,134.9 L87.81,135.45 L87.57,135.94 L87.28,136.35 L86.96,136.69 L86.6,136.96 L86.21,137.16 L85.81,137.29 L85.38,137.38 L84.94,137.44 L84.46,137.48 L83.84,137.51 L83.22,137.53 L82.73,137.52 L82.28,137.49 L81.84,137.4 L81.44,137.26 L81.05,137.04 L80.7,136.74 L80.39,136.37 L80.12,135.93 L79.89,135.42 L79.7,134.87 L79.54,134.28 L79.41,133.65 L79.31,132.99 L79.23,132.3 L79.17,131.55 L79.13,130.73 L79.13,129.66 L79.16,128.59 L79.23,127.76 L79.33,127.02 L79.46,126.34 L79.63,125.72 L79.83,125.16 L80.04,124.64 L80.27,124.16 L80.52,123.72 L80.77,123.29 L81.03,122.88 L81.32,122.49 L81.63,122.13 L81.96,121.81 L82.34,121.54 L82.76,121.34 L83.23,121.23 L83.84,121.2 L84.45,121.27 L84.92,121.42 L85.32,121.64 L85.69,121.92 L86.03,122.23 L86.34,122.57 L86.63,122.93 L86.9,123.31 L87.17,123.71 L87.43,124.14 L87.67,124.61 L87.89,125.12 L88.08,125.69 L88.24,126.32 L88.36,127.01 L88.45,127.76 L88.51,128.59Z" fill="none" stroke="#1a1a1a" stroke-opacity="0.30" stroke-width="0.55"/>
<path d="M88.23,129.67 L88.24,130.5 L88.21,131.14 L88.16,131.72 L88.09,132.25 L88,132.75 L87.89,133.23 L87.77,133.68 L87.62,134.11 L87.45,134.51 L87.25,134.86 L87.02,135.17 L86.76,135.43 L86.47,135.62 L86.15,135.75 L85.82,135.82 L85.46,135.84 L85.08,135.82 L84.6,135.78 L84.12,135.73 L83.75,135.67 L83.42,135.6 L83.1,135.51 L82.79,135.41 L82.5,135.27 L82.22,135.08 L81.96,134.84 L81.73,134.53 L81.53,134.18 L81.36,133.76 L81.23,133.3 L81.13,132.81 L81.06,132.28 L81.02,131.73 L80.99,131.14 L80.98,130.49 L80.99,129.67 L81.01,128.84 L81.05,128.19 L81.12,127.61 L81.2,127.07 L81.32,126.58 L81.46,126.12 L81.63,125.71 L81.81,125.35 L82.02,125.02 L82.23,124.73 L82.45,124.45 L82.68,124.2 L82.93,123.95 L83.19,123.72 L83.47,123.52 L83.78,123.34 L84.13,123.2 L84.6,123.12 L85.07,123.11 L85.44,123.17 L85.76,123.3 L86.06,123.49 L86.32,123.74 L86.56,124.03 L86.78,124.36 L86.97,124.7 L87.16,125.05 L87.33,125.41 L87.5,125.8 L87.66,126.2 L87.81,126.63 L87.94,127.1 L88.06,127.62 L88.14,128.19 L88.2,128.83Z" fill="none" stroke="#1a1a1a" stroke-opacity="0.30" stroke-width="0.55"/>
<ellipse cx="84.2" cy="129.4" rx="1" ry="1.4" fill="#fff" fill-opacity="0.85"/>
<path d="M257,105.8 L257.6,106.15 L259.21,106.77 L261.68,107.65 L264.89,108.76 L268.68,110.1 L272.89,111.64 L277.32,113.36 L281.8,115.25 L286.15,117.28 L290.17,119.43 L293.72,121.69 L296.63,124.02 L298.81,126.41 L300.15,128.85 L300.6,131.3 L300.15,133.75 L298.81,136.19 L296.63,138.58 L293.72,140.91 L290.17,143.17 L286.15,145.32 L281.8,147.35 L277.32,149.24 L272.89,150.96 L268.68,152.5 L264.89,153.84 L261.68,154.95 L259.21,155.83 L257.6,156.45 L257,156.8" fill="none" stroke="#5e5e5e" stroke-width="0.7" stroke-linejoin="round"/>
<path d="M257,108.1 L257.53,108.42 L258.97,108.98 L261.19,109.78 L264.06,110.8 L267.45,112.01 L271.21,113.41 L275.18,114.98 L279.19,116.7 L283.07,118.55 L286.67,120.5 L289.84,122.55 L292.45,124.68 L294.4,126.85 L295.6,129.07 L296,131.3 L295.6,133.53 L294.4,135.75 L292.45,137.92 L289.84,140.05 L286.67,142.1 L283.07,144.05 L279.19,145.9 L275.18,147.62 L271.21,149.19 L267.45,150.59 L264.06,151.8 L261.19,152.82 L258.97,153.62 L257.53,154.18 L257,154.5" fill="none" stroke="#5e5e5e" stroke-width="0.7" stroke-linejoin="round"/>
<path d="M257,110.5 L257.47,110.79 L258.72,111.29 L260.65,112.01 L263.15,112.92 L266.11,114.01 L269.39,115.26 L272.85,116.67 L276.34,118.21 L279.73,119.87 L282.87,121.62 L285.63,123.46 L287.91,125.36 L289.6,127.31 L290.65,129.3 L291,131.3 L290.65,133.3 L289.6,135.29 L287.91,137.24 L285.63,139.14 L282.87,140.98 L279.73,142.73 L276.34,144.39 L272.85,145.93 L269.39,147.34 L266.11,148.59 L263.15,149.68 L260.65,150.59 L258.72,151.31 L257.47,151.81 L257,152.1" fill="none" stroke="#5e5e5e" stroke-width="0.7" stroke-linejoin="round"/>
<path d="M257,112.9 L257.41,113.15 L258.52,113.6 L260.22,114.23 L262.43,115.04 L265.04,116 L267.93,117.11 L270.98,118.36 L274.07,119.72 L277.06,121.18 L279.83,122.74 L282.26,124.36 L284.27,126.05 L285.77,127.77 L286.69,129.53 L287,131.3 L286.69,133.07 L285.77,134.83 L284.27,136.55 L282.26,138.24 L279.83,139.86 L277.06,141.42 L274.07,142.88 L270.98,144.24 L267.93,145.49 L265.04,146.6 L262.43,147.56 L260.22,148.37 L258.52,149 L257.41,149.45 L257,149.7" fill="none" stroke="#5e5e5e" stroke-width="0.7" stroke-linejoin="round"/>
<path d="M257,115.3 L257.36,115.52 L258.34,115.91 L259.85,116.46 L261.8,117.16 L264.1,118 L266.66,118.96 L269.35,120.05 L272.08,121.23 L274.72,122.5 L277.16,123.85 L279.32,125.27 L281.09,126.73 L282.41,128.23 L283.22,129.76 L283.5,131.3 L283.22,132.84 L282.41,134.37 L281.09,135.87 L279.32,137.33 L277.16,138.75 L274.72,140.1 L272.08,141.37 L269.35,142.55 L266.66,143.64 L264.1,144.6 L261.8,145.44 L259.85,146.14 L258.34,146.69 L257.36,147.08 L257,147.3" fill="none" stroke="#5e5e5e" stroke-width="0.7" stroke-linejoin="round"/>
<path d="M257,117.7 L257.31,117.89 L258.16,118.22 L259.47,118.69 L261.16,119.28 L263.16,119.99 L265.38,120.81 L267.72,121.73 L270.08,122.74 L272.38,123.82 L274.5,124.97 L276.37,126.17 L277.91,127.42 L279.05,128.69 L279.76,129.99 L280,131.3 L279.76,132.61 L279.05,133.91 L277.91,135.18 L276.37,136.43 L274.5,137.63 L272.38,138.78 L270.08,139.86 L267.72,140.87 L265.38,141.79 L263.16,142.61 L261.16,143.32 L259.47,143.91 L258.16,144.38 L257.31,144.71 L257,144.9" fill="none" stroke="#5e5e5e" stroke-width="0.7" stroke-linejoin="round"/>
<path d="M257,120.1 L257.27,120.25 L258.01,120.53 L259.15,120.91 L260.62,121.4 L262.36,121.99 L264.29,122.67 L266.32,123.42 L268.38,124.25 L270.37,125.14 L272.22,126.09 L273.84,127.08 L275.18,128.1 L276.18,129.15 L276.79,130.22 L277,131.3 L276.79,132.38 L276.18,133.45 L275.18,134.5 L273.84,135.52 L272.22,136.51 L270.37,137.46 L268.38,138.35 L266.32,139.18 L264.29,139.93 L262.36,140.61 L260.62,141.2 L259.15,141.69 L258.01,142.07 L257.27,142.35 L257,142.5" fill="none" stroke="#5e5e5e" stroke-width="0.7" stroke-linejoin="round"/>
<path d="M257,122.3 L257.23,122.42 L257.86,122.64 L258.83,122.95 L260.08,123.35 L261.56,123.82 L263.19,124.36 L264.92,124.97 L266.67,125.64 L268.36,126.35 L269.93,127.11 L271.32,127.91 L272.45,128.73 L273.3,129.58 L273.82,130.43 L274,131.3 L273.82,132.17 L273.3,133.02 L272.45,133.87 L271.32,134.69 L269.93,135.49 L268.36,136.25 L266.67,136.96 L264.92,137.63 L263.19,138.24 L261.56,138.78 L260.08,139.25 L258.83,139.65 L257.86,139.96 L257.23,140.18 L257,140.3" fill="none" stroke="#5e5e5e" stroke-width="0.7" stroke-linejoin="round"/>
<path d="M257,124.3 L257.2,124.4 L257.73,124.57 L258.56,124.81 L259.62,125.11 L260.89,125.48 L262.28,125.9 L263.76,126.38 L265.25,126.89 L266.69,127.45 L268.03,128.04 L269.21,128.66 L270.18,129.3 L270.9,129.96 L271.35,130.63 L271.5,131.3 L271.35,131.97 L270.9,132.64 L270.18,133.3 L269.21,133.94 L268.03,134.56 L266.69,135.15 L265.25,135.71 L263.76,136.22 L262.28,136.7 L260.89,137.12 L259.62,137.49 L258.56,137.79 L257.73,138.03 L257.2,138.2 L257,138.3" fill="none" stroke="#5e5e5e" stroke-width="0.7" stroke-linejoin="round"/>
<path d="M268,129.4 L267.95,133.81 L267.81,136.89 L267.57,139.58 L267.23,142.02 L266.8,144.25 L266.27,146.3 L265.65,148.18 L264.94,149.9 L264.14,151.46 L263.24,152.86 L262.26,154.1 L261.18,155.18 L260.01,156.1 L258.73,156.85 L257.33,157.44 L255.79,157.86 L254.03,158.12 L251.5,158.2 L248.97,158.12 L247.21,157.86 L245.67,157.44 L244.27,156.85 L242.99,156.1 L241.82,155.18 L240.74,154.1 L239.76,152.86 L238.86,151.46 L238.06,149.9 L237.35,148.18 L236.73,146.3 L236.2,144.25 L235.77,142.02 L235.43,139.58 L235.19,136.89 L235.05,133.81 L235,129.4 L235.05,124.99 L235.19,121.91 L235.43,119.22 L235.77,116.78 L236.2,114.55 L236.73,112.5 L237.35,110.62 L238.06,108.9 L238.86,107.34 L239.76,105.94 L240.74,104.7 L241.82,103.62 L242.99,102.7 L244.27,101.95 L245.67,101.36 L247.21,100.94 L248.97,100.68 L251.5,100.6 L254.03,100.68 L255.79,100.94 L257.33,101.36 L258.73,101.95 L260.01,102.7 L261.18,103.62 L262.26,104.7 L263.24,105.94 L264.14,107.34 L264.94,108.9 L265.65,110.62 L266.27,112.5 L266.8,114.55 L267.23,116.78 L267.57,119.22 L267.81,121.91 L267.95,124.99Z" fill="url(#gb2)"/>
<path d="M267.71,129.4 L267.73,133.78 L267.66,136.88 L267.49,139.61 L267.19,142.09 L266.77,144.34 L266.23,146.38 L265.57,148.21 L264.79,149.83 L263.92,151.25 L262.97,152.49 L261.94,153.57 L260.86,154.51 L259.7,155.34 L258.47,156.07 L257.14,156.7 L255.66,157.22 L253.96,157.61 L251.5,157.84 L249.01,157.9 L247.26,157.75 L245.72,157.4 L244.34,156.83 L243.07,156.05 L241.93,155.1 L240.88,153.97 L239.93,152.69 L239.07,151.27 L238.28,149.72 L237.58,148.02 L236.95,146.18 L236.41,144.16 L235.97,141.96 L235.63,139.54 L235.41,136.85 L235.3,133.77 L235.31,129.4 L235.43,125.06 L235.64,122.06 L235.94,119.46 L236.31,117.12 L236.74,114.96 L237.22,112.94 L237.78,111.04 L238.4,109.26 L239.1,107.59 L239.9,106.05 L240.82,104.68 L241.85,103.48 L243,102.5 L244.27,101.74 L245.68,101.2 L247.23,100.89 L249,100.78 L251.5,100.84 L253.97,101.06 L255.69,101.42 L257.18,101.9 L258.53,102.49 L259.78,103.21 L260.94,104.07 L262.01,105.08 L263,106.26 L263.89,107.61 L264.68,109.14 L265.37,110.85 L265.96,112.73 L266.45,114.78 L266.85,116.99 L267.18,119.38 L267.43,122.03 L267.61,125.05Z" fill="none" stroke="#1a1a1a" stroke-opacity="0.51" stroke-width="0.55"/>
<path d="M266.72,129.35 L266.67,133.44 L266.52,136.3 L266.27,138.78 L265.94,141.02 L265.53,143.07 L265.05,144.96 L264.51,146.73 L263.9,148.39 L263.21,149.93 L262.44,151.35 L261.57,152.63 L260.6,153.74 L259.52,154.67 L258.32,155.39 L256.99,155.88 L255.53,156.16 L253.86,156.24 L251.52,156.13 L249.2,155.87 L247.61,155.48 L246.23,154.99 L244.97,154.41 L243.81,153.74 L242.72,152.97 L241.7,152.09 L240.74,151.06 L239.85,149.88 L239.06,148.51 L238.35,146.96 L237.76,145.22 L237.27,143.3 L236.88,141.19 L236.6,138.88 L236.4,136.35 L236.29,133.46 L236.26,129.35 L236.29,125.23 L236.41,122.35 L236.61,119.82 L236.9,117.52 L237.29,115.42 L237.78,113.5 L238.38,111.77 L239.08,110.22 L239.87,108.85 L240.75,107.67 L241.71,106.63 L242.73,105.74 L243.81,104.95 L244.97,104.27 L246.22,103.67 L247.6,103.16 L249.2,102.77 L251.52,102.5 L253.87,102.4 L255.53,102.48 L257,102.77 L258.32,103.29 L259.52,104.02 L260.6,104.96 L261.56,106.09 L262.42,107.38 L263.19,108.8 L263.88,110.34 L264.49,111.99 L265.03,113.76 L265.51,115.65 L265.93,117.69 L266.26,119.92 L266.51,122.4 L266.67,125.25Z" fill="none" stroke="#1a1a1a" stroke-opacity="0.51" stroke-width="0.55"/>
<path d="M265.74,129.48 L265.59,133.31 L265.36,135.94 L265.08,138.21 L264.74,140.26 L264.36,142.16 L263.94,143.93 L263.46,145.6 L262.92,147.18 L262.3,148.64 L261.59,149.98 L260.78,151.17 L259.87,152.19 L258.86,153.03 L257.74,153.69 L256.51,154.17 L255.16,154.48 L253.61,154.64 L251.42,154.67 L249.23,154.58 L247.7,154.37 L246.36,154.03 L245.14,153.55 L244.02,152.93 L242.99,152.14 L242.06,151.18 L241.22,150.04 L240.49,148.74 L239.85,147.29 L239.3,145.71 L238.83,144.01 L238.43,142.2 L238.09,140.27 L237.8,138.2 L237.55,135.91 L237.35,133.29 L237.21,129.48 L237.14,125.62 L237.16,122.87 L237.29,120.45 L237.54,118.25 L237.91,116.25 L238.4,114.45 L238.99,112.84 L239.68,111.41 L240.45,110.15 L241.28,109.05 L242.18,108.07 L243.13,107.2 L244.15,106.44 L245.24,105.78 L246.42,105.24 L247.74,104.81 L249.25,104.54 L251.42,104.42 L253.6,104.47 L255.12,104.7 L256.45,105.1 L257.64,105.65 L258.73,106.34 L259.73,107.15 L260.66,108.07 L261.53,109.1 L262.34,110.25 L263.09,111.52 L263.77,112.94 L264.38,114.53 L264.89,116.29 L265.29,118.26 L265.58,120.43 L265.75,122.84 L265.8,125.6Z" fill="none" stroke="#1a1a1a" stroke-opacity="0.51" stroke-width="0.55"/>
<path d="M264.49,129.39 L264.46,132.91 L264.39,135.38 L264.26,137.57 L264.06,139.58 L263.79,141.45 L263.42,143.18 L262.96,144.77 L262.4,146.21 L261.75,147.49 L261.01,148.61 L260.19,149.59 L259.31,150.44 L258.35,151.17 L257.32,151.79 L256.2,152.29 L254.96,152.68 L253.53,152.95 L251.48,153.07 L249.42,153.03 L247.98,152.81 L246.73,152.42 L245.62,151.84 L244.63,151.1 L243.73,150.22 L242.93,149.22 L242.19,148.12 L241.52,146.95 L240.89,145.7 L240.3,144.36 L239.76,142.93 L239.25,141.37 L238.81,139.66 L238.43,137.74 L238.15,135.58 L237.96,133.05 L237.89,129.39 L237.94,125.73 L238.1,123.19 L238.36,121 L238.7,119.05 L239.12,117.29 L239.6,115.68 L240.14,114.2 L240.73,112.84 L241.37,111.58 L242.07,110.42 L242.85,109.38 L243.7,108.47 L244.63,107.71 L245.66,107.1 L246.79,106.65 L248.04,106.35 L249.46,106.21 L251.48,106.19 L253.49,106.29 L254.9,106.48 L256.14,106.77 L257.28,107.15 L258.34,107.64 L259.34,108.25 L260.27,109.01 L261.13,109.93 L261.89,111.04 L262.56,112.33 L263.12,113.79 L263.57,115.43 L263.91,117.21 L264.16,119.12 L264.33,121.17 L264.44,123.38 L264.49,125.87Z" fill="none" stroke="#1a1a1a" stroke-opacity="0.51" stroke-width="0.55"/>
<path d="M264.12,129.25 L264.17,132.64 L264.13,135.04 L263.98,137.14 L263.72,139.02 L263.34,140.7 L262.88,142.21 L262.33,143.55 L261.71,144.74 L261.05,145.8 L260.33,146.75 L259.58,147.61 L258.78,148.4 L257.92,149.11 L257,149.73 L255.99,150.24 L254.86,150.64 L253.55,150.9 L251.66,151 L249.78,150.94 L248.46,150.74 L247.31,150.39 L246.28,149.92 L245.33,149.34 L244.45,148.66 L243.63,147.89 L242.86,147.01 L242.15,146.03 L241.5,144.92 L240.91,143.67 L240.41,142.26 L240,140.69 L239.7,138.95 L239.49,137.04 L239.39,134.94 L239.38,132.57 L239.45,129.25 L239.58,125.98 L239.75,123.72 L239.96,121.75 L240.2,119.96 L240.47,118.28 L240.79,116.69 L241.17,115.18 L241.62,113.77 L242.15,112.47 L242.78,111.31 L243.49,110.3 L244.31,109.45 L245.21,108.77 L246.19,108.25 L247.26,107.88 L248.44,107.64 L249.77,107.52 L251.66,107.49 L253.55,107.57 L254.87,107.74 L256.03,108.03 L257.08,108.45 L258.05,109.01 L258.92,109.71 L259.72,110.57 L260.42,111.57 L261.04,112.71 L261.59,113.95 L262.07,115.3 L262.49,116.73 L262.87,118.26 L263.21,119.89 L263.51,121.66 L263.77,123.63 L263.98,125.92Z" fill="none" stroke="#1a1a1a" stroke-opacity="0.51" stroke-width="0.55"/>
<path d="M262.76,129.66 L262.7,132.7 L262.58,134.82 L262.41,136.66 L262.19,138.35 L261.94,139.92 L261.64,141.41 L261.28,142.81 L260.86,144.12 L260.36,145.32 L259.77,146.4 L259.09,147.32 L258.32,148.08 L257.47,148.66 L256.54,149.06 L255.53,149.31 L254.43,149.42 L253.2,149.43 L251.48,149.35 L249.78,149.21 L248.6,149.01 L247.56,148.77 L246.59,148.45 L245.69,148.04 L244.85,147.53 L244.07,146.88 L243.35,146.09 L242.71,145.15 L242.14,144.07 L241.65,142.85 L241.24,141.51 L240.9,140.05 L240.62,138.48 L240.39,136.77 L240.22,134.9 L240.09,132.75 L240.03,129.66 L240.03,126.56 L240.11,124.38 L240.27,122.47 L240.52,120.77 L240.86,119.23 L241.28,117.86 L241.78,116.64 L242.34,115.55 L242.94,114.58 L243.59,113.71 L244.26,112.9 L244.98,112.15 L245.75,111.45 L246.58,110.81 L247.49,110.24 L248.52,109.76 L249.72,109.41 L251.48,109.22 L253.26,109.19 L254.51,109.35 L255.59,109.69 L256.55,110.19 L257.42,110.84 L258.19,111.6 L258.89,112.46 L259.54,113.4 L260.12,114.41 L260.66,115.51 L261.16,116.68 L261.6,117.96 L261.98,119.36 L262.29,120.9 L262.53,122.58 L262.69,124.46 L262.76,126.61Z" fill="none" stroke="#1a1a1a" stroke-opacity="0.30" stroke-width="0.55"/>
<path d="M261.5,129.21 L261.53,131.99 L261.51,133.97 L261.41,135.72 L261.23,137.31 L260.98,138.75 L260.64,140.07 L260.24,141.26 L259.77,142.34 L259.25,143.32 L258.68,144.2 L258.06,145.01 L257.39,145.73 L256.66,146.37 L255.87,146.92 L254.99,147.35 L254.01,147.65 L252.87,147.8 L251.26,147.8 L249.66,147.65 L248.56,147.36 L247.61,146.94 L246.78,146.43 L246.02,145.85 L245.32,145.21 L244.67,144.53 L244.04,143.8 L243.45,143.01 L242.88,142.14 L242.35,141.17 L241.87,140.07 L241.46,138.83 L241.13,137.43 L240.88,135.86 L240.73,134.1 L240.67,132.08 L240.7,129.21 L240.79,126.37 L240.95,124.41 L241.16,122.72 L241.4,121.2 L241.69,119.8 L242.02,118.5 L242.39,117.29 L242.82,116.18 L243.31,115.16 L243.87,114.26 L244.49,113.48 L245.18,112.82 L245.94,112.29 L246.75,111.88 L247.63,111.56 L248.6,111.32 L249.69,111.15 L251.26,111.05 L252.84,111 L253.97,111.03 L254.97,111.15 L255.89,111.39 L256.75,111.77 L257.53,112.3 L258.23,113 L258.85,113.85 L259.38,114.85 L259.83,115.98 L260.2,117.2 L260.5,118.51 L260.75,119.88 L260.96,121.33 L261.14,122.87 L261.29,124.54 L261.41,126.45Z" fill="none" stroke="#9a9a9a" stroke-opacity="0.45" stroke-width="0.55"/>
<path d="M260.95,129.33 L260.89,131.86 L260.79,133.62 L260.66,135.16 L260.49,136.57 L260.27,137.87 L260,139.08 L259.66,140.18 L259.26,141.18 L258.79,142.07 L258.27,142.85 L257.7,143.53 L257.07,144.12 L256.4,144.64 L255.69,145.09 L254.91,145.48 L254.04,145.81 L253.05,146.07 L251.59,146.25 L250.12,146.31 L249.08,146.25 L248.17,146.04 L247.35,145.67 L246.62,145.15 L245.98,144.5 L245.41,143.72 L244.91,142.86 L244.48,141.93 L244.08,140.95 L243.72,139.92 L243.39,138.85 L243.08,137.71 L242.79,136.49 L242.54,135.15 L242.32,133.65 L242.17,131.89 L242.08,129.33 L242.07,126.75 L242.14,124.93 L242.29,123.36 L242.5,121.94 L242.78,120.66 L243.1,119.49 L243.48,118.41 L243.89,117.42 L244.34,116.5 L244.84,115.66 L245.39,114.9 L246,114.24 L246.68,113.69 L247.42,113.26 L248.24,112.97 L249.14,112.82 L250.16,112.79 L251.59,112.86 L253.01,113.03 L253.99,113.25 L254.84,113.53 L255.62,113.85 L256.35,114.2 L257.05,114.61 L257.72,115.09 L258.35,115.66 L258.93,116.36 L259.45,117.18 L259.91,118.15 L260.28,119.26 L260.57,120.5 L260.78,121.87 L260.91,123.35 L260.97,124.97 L260.98,126.78Z" fill="none" stroke="#1a1a1a" stroke-opacity="0.30" stroke-width="0.55"/>
<path d="M260.37,129.76 L260.4,132.1 L260.36,133.75 L260.25,135.2 L260.07,136.5 L259.81,137.66 L259.48,138.68 L259.09,139.58 L258.65,140.37 L258.17,141.06 L257.67,141.68 L257.15,142.24 L256.6,142.77 L256.03,143.26 L255.42,143.73 L254.74,144.15 L253.98,144.5 L253.09,144.77 L251.79,144.94 L250.48,144.97 L249.55,144.87 L248.74,144.65 L248.02,144.3 L247.37,143.84 L246.79,143.3 L246.25,142.68 L245.76,142 L245.3,141.26 L244.89,140.45 L244.51,139.57 L244.17,138.61 L243.89,137.54 L243.67,136.37 L243.52,135.09 L243.43,133.66 L243.4,132.04 L243.43,129.76 L243.51,127.51 L243.62,125.95 L243.76,124.59 L243.92,123.35 L244.11,122.18 L244.31,121.07 L244.56,120.01 L244.85,119.01 L245.2,118.07 L245.61,117.23 L246.1,116.5 L246.67,115.9 L247.3,115.44 L248,115.12 L248.75,114.93 L249.58,114.85 L250.5,114.85 L251.79,114.93 L253.07,115.05 L253.95,115.22 L254.73,115.43 L255.44,115.69 L256.11,116.02 L256.72,116.43 L257.29,116.94 L257.81,117.56 L258.28,118.27 L258.68,119.09 L259.04,120 L259.34,121 L259.6,122.07 L259.82,123.23 L260.01,124.48 L260.16,125.86 L260.29,127.45Z" fill="none" stroke="#1a1a1a" stroke-opacity="0.30" stroke-width="0.55"/>
<path d="M258.74,128.95 L258.79,130.99 L258.79,132.45 L258.73,133.74 L258.6,134.91 L258.4,135.97 L258.14,136.92 L257.83,137.77 L257.47,138.52 L257.07,139.2 L256.64,139.81 L256.18,140.36 L255.69,140.86 L255.16,141.3 L254.59,141.67 L253.96,141.96 L253.25,142.16 L252.45,142.27 L251.29,142.27 L250.15,142.16 L249.36,141.96 L248.69,141.69 L248.08,141.36 L247.52,140.98 L247,140.57 L246.51,140.12 L246.03,139.63 L245.58,139.09 L245.15,138.47 L244.76,137.77 L244.41,136.96 L244.12,136.03 L243.9,134.98 L243.76,133.8 L243.68,132.5 L243.68,131.02 L243.73,128.95 L243.83,126.91 L243.97,125.52 L244.12,124.32 L244.3,123.24 L244.49,122.23 L244.71,121.29 L244.96,120.4 L245.25,119.56 L245.58,118.8 L245.96,118.11 L246.4,117.52 L246.89,117.01 L247.43,116.6 L248.01,116.28 L248.65,116.03 L249.35,115.84 L250.15,115.71 L251.29,115.63 L252.45,115.6 L253.27,115.64 L253.99,115.76 L254.65,115.97 L255.26,116.29 L255.81,116.72 L256.29,117.27 L256.71,117.93 L257.07,118.69 L257.37,119.51 L257.63,120.4 L257.84,121.33 L258.03,122.29 L258.21,123.31 L258.37,124.39 L258.51,125.57 L258.64,126.94Z" fill="none" stroke="#9a9a9a" stroke-opacity="0.45" stroke-width="0.55"/>
<path d="M257.72,129.62 L257.69,131.4 L257.64,132.64 L257.55,133.73 L257.44,134.74 L257.3,135.67 L257.13,136.55 L256.91,137.36 L256.64,138.1 L256.32,138.76 L255.95,139.32 L255.53,139.77 L255.06,140.12 L254.55,140.38 L254.02,140.56 L253.45,140.68 L252.84,140.76 L252.16,140.82 L251.19,140.85 L250.22,140.87 L249.53,140.87 L248.91,140.82 L248.33,140.71 L247.79,140.52 L247.29,140.23 L246.83,139.84 L246.42,139.34 L246.07,138.74 L245.76,138.06 L245.51,137.31 L245.3,136.5 L245.12,135.64 L244.97,134.71 L244.85,133.73 L244.75,132.64 L244.68,131.4 L244.65,129.62 L244.66,127.84 L244.72,126.59 L244.83,125.51 L244.98,124.55 L245.19,123.68 L245.43,122.9 L245.7,122.19 L246,121.54 L246.31,120.94 L246.65,120.36 L247,119.82 L247.39,119.3 L247.81,118.81 L248.29,118.39 L248.83,118.03 L249.44,117.77 L250.16,117.62 L251.19,117.59 L252.22,117.68 L252.93,117.88 L253.53,118.17 L254.06,118.53 L254.53,118.95 L254.96,119.4 L255.35,119.88 L255.73,120.39 L256.08,120.93 L256.41,121.51 L256.72,122.14 L257,122.85 L257.24,123.64 L257.43,124.52 L257.57,125.5 L257.67,126.59 L257.71,127.84Z" fill="none" stroke="#1a1a1a" stroke-opacity="0.30" stroke-width="0.55"/>
<path d="M257.43,129.63 L257.41,131.15 L257.35,132.22 L257.26,133.14 L257.14,133.98 L257,134.75 L256.84,135.48 L256.65,136.16 L256.44,136.8 L256.19,137.39 L255.9,137.92 L255.56,138.37 L255.18,138.74 L254.76,139.02 L254.3,139.21 L253.81,139.31 L253.27,139.34 L252.67,139.32 L251.84,139.26 L251.02,139.19 L250.44,139.1 L249.93,138.99 L249.46,138.87 L249.01,138.71 L248.58,138.51 L248.18,138.23 L247.8,137.88 L247.47,137.43 L247.18,136.9 L246.94,136.28 L246.74,135.59 L246.59,134.84 L246.48,134.03 L246.4,133.16 L246.34,132.21 L246.3,131.14 L246.29,129.63 L246.3,128.11 L246.34,127.04 L246.41,126.11 L246.52,125.26 L246.67,124.5 L246.87,123.81 L247.1,123.19 L247.36,122.64 L247.65,122.16 L247.97,121.72 L248.3,121.31 L248.65,120.94 L249.02,120.58 L249.42,120.25 L249.87,119.94 L250.37,119.69 L250.97,119.49 L251.84,119.37 L252.72,119.36 L253.34,119.44 L253.87,119.63 L254.34,119.91 L254.75,120.27 L255.12,120.7 L255.44,121.17 L255.73,121.67 L256,122.2 L256.25,122.74 L256.49,123.31 L256.71,123.92 L256.92,124.59 L257.1,125.31 L257.24,126.12 L257.35,127.04 L257.41,128.1Z" fill="none" stroke="#1a1a1a" stroke-opacity="0.30" stroke-width="0.55"/>
<path d="M256.51,128.8 L256.46,130.09 L256.38,130.98 L256.28,131.73 L256.15,132.41 L256.01,133.02 L255.85,133.59 L255.68,134.13 L255.49,134.63 L255.28,135.09 L255.04,135.5 L254.77,135.87 L254.47,136.17 L254.13,136.42 L253.77,136.6 L253.38,136.73 L252.95,136.82 L252.46,136.87 L251.77,136.89 L251.08,136.9 L250.59,136.88 L250.15,136.84 L249.74,136.75 L249.35,136.62 L248.99,136.41 L248.67,136.14 L248.38,135.78 L248.13,135.34 L247.92,134.84 L247.76,134.27 L247.64,133.66 L247.55,133.02 L247.48,132.35 L247.42,131.64 L247.37,130.88 L247.34,130.02 L247.3,128.8 L247.29,127.56 L247.29,126.68 L247.31,125.9 L247.38,125.17 L247.47,124.51 L247.61,123.9 L247.78,123.36 L247.99,122.87 L248.23,122.44 L248.49,122.05 L248.76,121.7 L249.07,121.39 L249.39,121.1 L249.74,120.86 L250.12,120.65 L250.56,120.5 L251.06,120.4 L251.77,120.38 L252.49,120.43 L252.98,120.56 L253.4,120.76 L253.77,121.01 L254.1,121.3 L254.39,121.63 L254.67,121.97 L254.93,122.33 L255.18,122.69 L255.42,123.08 L255.66,123.5 L255.88,123.97 L256.08,124.51 L256.25,125.11 L256.38,125.8 L256.47,126.58 L256.51,127.5Z" fill="none" stroke="#9a9a9a" stroke-opacity="0.45" stroke-width="0.55"/>
<path d="M254.74,130 L254.75,131.03 L254.72,131.75 L254.66,132.38 L254.56,132.93 L254.44,133.43 L254.3,133.88 L254.15,134.29 L253.98,134.67 L253.8,135.02 L253.61,135.34 L253.39,135.63 L253.16,135.89 L252.9,136.11 L252.62,136.28 L252.31,136.39 L251.96,136.46 L251.57,136.47 L251.02,136.45 L250.48,136.39 L250.1,136.31 L249.77,136.21 L249.47,136.1 L249.18,135.98 L248.91,135.83 L248.64,135.66 L248.39,135.44 L248.16,135.17 L247.95,134.84 L247.78,134.45 L247.64,134 L247.54,133.49 L247.48,132.94 L247.44,132.34 L247.44,131.7 L247.44,130.99 L247.47,130 L247.5,129.02 L247.53,128.34 L247.57,127.73 L247.63,127.18 L247.7,126.66 L247.79,126.17 L247.91,125.72 L248.06,125.31 L248.23,124.95 L248.43,124.63 L248.65,124.36 L248.89,124.13 L249.15,123.93 L249.43,123.75 L249.74,123.6 L250.07,123.47 L250.46,123.37 L251.02,123.3 L251.59,123.28 L252,123.32 L252.35,123.41 L252.66,123.57 L252.93,123.79 L253.17,124.07 L253.38,124.39 L253.57,124.74 L253.73,125.11 L253.88,125.49 L254.02,125.88 L254.15,126.29 L254.28,126.72 L254.41,127.18 L254.52,127.7 L254.62,128.28 L254.7,128.98Z" fill="none" stroke="#1a1a1a" stroke-opacity="0.30" stroke-width="0.55"/>
<ellipse cx="251.5" cy="129.4" rx="0.9" ry="3" fill="#fff" fill-opacity="0.85"/>
<path d="M432,104.3 C434.67,102.43 440.07,103.75 444,103.8 C447.93,103.85 451.6,103.98 455.6,104.6 C459.6,105.22 464.68,106.27 468,107.5 C471.32,108.73 473.57,109.83 475.5,112 C477.43,114.17 478.98,117.33 479.6,120.5 C480.22,123.67 479.97,127.83 479.2,131 C478.43,134.17 477.2,137.12 475,139.5 C472.8,141.88 469.33,144.17 466,145.3 C462.67,146.43 458.83,146.27 455,146.3 C451.17,146.33 446.67,145.97 443,145.5 C439.33,145.03 435.5,145.25 433,143.5 C430.5,141.75 428.83,139.75 428,135 C427.17,130.25 427.33,120.12 428,115 C428.67,109.88 429.33,106.17 432,104.3Z" fill="#f6f6f6" stroke="#555" stroke-opacity="0.8" stroke-width="0.6"/>
<path d="M434.18,105.96 C436.64,104.24 441.62,105.45 445.25,105.5 C448.87,105.55 452.26,105.67 455.94,106.24 C459.63,106.81 464.32,107.77 467.38,108.91 C470.43,110.05 472.51,111.06 474.29,113.06 C476.07,115.06 477.5,117.98 478.07,120.9 C478.64,123.82 478.41,127.66 477.7,130.58 C477,133.5 475.86,136.22 473.83,138.42 C471.8,140.61 468.61,142.72 465.53,143.76 C462.46,144.81 458.92,144.65 455.39,144.69 C451.86,144.72 447.71,144.38 444.33,143.95 C440.95,143.52 437.41,143.72 435.11,142.1 C432.8,140.49 431.26,138.65 430.5,134.27 C429.73,129.89 429.88,120.54 430.5,115.83 C431.11,111.11 431.73,107.68 434.18,105.96Z" fill="none" stroke="#555" stroke-opacity="0.8" stroke-width="0.6"/>
<path d="M436.37,107.62 C438.62,106.05 443.18,107.16 446.5,107.2 C449.82,107.24 452.91,107.36 456.29,107.88 C459.66,108.4 463.95,109.28 466.75,110.32 C469.55,111.36 471.45,112.29 473.08,114.12 C474.71,115.95 476.02,118.62 476.54,121.3 C477.06,123.97 476.85,127.48 476.2,130.16 C475.56,132.83 474.52,135.32 472.66,137.33 C470.8,139.34 467.88,141.27 465.06,142.23 C462.25,143.18 459.02,143.04 455.78,143.07 C452.54,143.1 448.75,142.79 445.65,142.4 C442.56,142 439.32,142.18 437.21,140.71 C435.1,139.23 433.7,137.54 432.99,133.53 C432.29,129.52 432.43,120.97 432.99,116.65 C433.55,112.34 434.12,109.2 436.37,107.62Z" fill="none" stroke="#555" stroke-opacity="0.8" stroke-width="0.6"/>
<path d="M438.55,109.28 C440.59,107.85 444.73,108.86 447.74,108.9 C450.76,108.94 453.57,109.04 456.63,109.51 C459.69,109.99 463.59,110.79 466.13,111.74 C468.67,112.68 470.39,113.52 471.87,115.18 C473.35,116.84 474.54,119.27 475.01,121.69 C475.49,124.12 475.29,127.31 474.71,129.74 C474.12,132.16 473.18,134.42 471.49,136.25 C469.8,138.07 467.15,139.82 464.6,140.69 C462.04,141.56 459.11,141.43 456.17,141.46 C453.23,141.48 449.79,141.2 446.98,140.84 C444.17,140.49 441.23,140.65 439.32,139.31 C437.4,137.97 436.13,136.44 435.49,132.8 C434.85,129.16 434.98,121.4 435.49,117.48 C436,113.56 436.51,110.71 438.55,109.28Z" fill="none" stroke="#555" stroke-opacity="0.6" stroke-width="0.6"/>
<path d="M440.74,110.95 C442.57,109.66 446.29,110.57 448.99,110.6 C451.7,110.64 454.22,110.73 456.97,111.15 C459.72,111.58 463.22,112.3 465.5,113.15 C467.79,114 469.33,114.75 470.66,116.24 C471.99,117.73 473.06,119.91 473.48,122.09 C473.91,124.27 473.74,127.14 473.21,129.32 C472.68,131.49 471.83,133.52 470.32,135.16 C468.81,136.8 466.42,138.37 464.13,139.15 C461.83,139.93 459.2,139.82 456.56,139.84 C453.92,139.86 450.83,139.61 448.3,139.29 C445.78,138.97 443.14,139.12 441.42,137.92 C439.7,136.71 438.56,135.34 437.98,132.07 C437.41,128.8 437.53,121.83 437.98,118.31 C438.44,114.79 438.9,112.23 440.74,110.95Z" fill="none" stroke="#555" stroke-opacity="0.6" stroke-width="0.6"/>
<path d="M442.92,112.61 C444.55,111.47 447.84,112.27 450.24,112.3 C452.64,112.33 454.88,112.41 457.32,112.79 C459.76,113.17 462.86,113.81 464.88,114.56 C466.9,115.31 468.28,115.98 469.45,117.3 C470.63,118.63 471.58,120.56 471.96,122.49 C472.33,124.42 472.18,126.96 471.71,128.89 C471.24,130.83 470.49,132.63 469.15,134.08 C467.81,135.53 465.69,136.93 463.66,137.62 C461.63,138.31 459.29,138.21 456.95,138.23 C454.61,138.25 451.87,138.02 449.63,137.74 C447.39,137.45 445.05,137.59 443.53,136.52 C442,135.45 440.99,134.23 440.48,131.33 C439.97,128.44 440.07,122.26 440.48,119.13 C440.89,116.01 441.29,113.75 442.92,112.61Z" fill="none" stroke="#555" stroke-opacity="0.6" stroke-width="0.6"/>
<path d="M445.1,114.27 C446.52,113.28 449.4,113.98 451.49,114 C453.58,114.03 455.53,114.1 457.66,114.43 C459.79,114.76 462.49,115.31 464.26,115.97 C466.02,116.63 467.22,117.21 468.25,118.36 C469.27,119.52 470.1,121.2 470.43,122.89 C470.76,124.57 470.62,126.79 470.21,128.47 C469.81,130.16 469.15,131.73 467.98,132.99 C466.81,134.26 464.97,135.48 463.19,136.08 C461.42,136.68 459.38,136.59 457.34,136.61 C455.3,136.63 452.91,136.44 450.96,136.19 C449.01,135.94 446.97,136.05 445.64,135.12 C444.31,134.19 443.42,133.13 442.98,130.6 C442.53,128.07 442.62,122.68 442.98,119.96 C443.33,117.24 443.69,115.26 445.1,114.27Z" fill="none" stroke="#555" stroke-opacity="0.6" stroke-width="0.6"/>
<path d="M447.29,115.93 C448.5,115.08 450.95,115.68 452.74,115.7 C454.52,115.73 456.19,115.79 458,116.07 C459.82,116.35 462.13,116.82 463.63,117.38 C465.14,117.94 466.16,118.44 467.04,119.43 C467.91,120.41 468.62,121.85 468.9,123.28 C469.18,124.72 469.06,126.61 468.72,128.05 C468.37,129.49 467.81,130.83 466.81,131.91 C465.81,132.99 464.24,134.03 462.72,134.54 C461.21,135.06 459.47,134.98 457.73,135 C455.99,135.01 453.95,134.85 452.28,134.63 C450.62,134.42 448.88,134.52 447.74,133.73 C446.61,132.93 445.85,132.02 445.47,129.87 C445.09,127.71 445.17,123.11 445.47,120.79 C445.77,118.46 446.08,116.78 447.29,115.93Z" fill="none" stroke="#555" stroke-opacity="0.6" stroke-width="0.6"/>
<path d="M449.47,117.59 C450.47,116.89 452.51,117.38 453.98,117.4 C455.46,117.42 456.84,117.47 458.35,117.7 C459.85,117.94 461.76,118.33 463.01,118.79 C464.26,119.26 465.1,119.67 465.83,120.49 C466.55,121.3 467.14,122.49 467.37,123.68 C467.6,124.87 467.51,126.44 467.22,127.63 C466.93,128.82 466.47,129.93 465.64,130.83 C464.81,131.72 463.51,132.58 462.26,133.01 C461,133.43 459.56,133.37 458.12,133.38 C456.68,133.4 454.99,133.26 453.61,133.08 C452.23,132.91 450.79,132.99 449.85,132.33 C448.91,131.67 448.28,130.92 447.97,129.13 C447.65,127.35 447.72,123.54 447.97,121.61 C448.22,119.69 448.47,118.29 449.47,117.59Z" fill="none" stroke="#555" stroke-opacity="0.6" stroke-width="0.6"/>
<path d="M451.66,119.25 C452.45,118.7 454.06,119.09 455.23,119.1 C456.4,119.12 457.5,119.16 458.69,119.34 C459.88,119.53 461.4,119.84 462.38,120.21 C463.37,120.57 464.04,120.9 464.62,121.55 C465.2,122.19 465.66,123.14 465.84,124.08 C466.02,125.02 465.95,126.27 465.72,127.21 C465.49,128.15 465.13,129.03 464.47,129.74 C463.81,130.45 462.78,131.13 461.79,131.47 C460.79,131.81 459.65,131.76 458.51,131.77 C457.37,131.78 456.03,131.67 454.93,131.53 C453.84,131.39 452.7,131.46 451.95,130.93 C451.21,130.41 450.71,129.82 450.46,128.4 C450.22,126.99 450.27,123.97 450.46,122.44 C450.66,120.92 450.86,119.81 451.66,119.25Z" fill="none" stroke="#555" stroke-opacity="0.6" stroke-width="0.6"/>
<path d="M453.84,120.91 C454.43,120.5 455.61,120.79 456.48,120.8 C457.35,120.81 458.15,120.84 459.03,120.98 C459.91,121.12 461.03,121.35 461.76,121.62 C462.49,121.89 462.98,122.13 463.41,122.61 C463.84,123.08 464.18,123.78 464.31,124.48 C464.45,125.17 464.39,126.09 464.22,126.79 C464.06,127.48 463.78,128.13 463.3,128.66 C462.82,129.18 462.05,129.68 461.32,129.93 C460.59,130.18 459.74,130.15 458.9,130.15 C458.06,130.16 457.07,130.08 456.26,129.98 C455.45,129.88 454.61,129.92 454.06,129.54 C453.51,129.15 453.14,128.71 452.96,127.67 C452.78,126.62 452.81,124.39 452.96,123.27 C453.11,122.14 453.25,121.32 453.84,120.91Z" fill="none" stroke="#555" stroke-opacity="0.6" stroke-width="0.6"/>
<path d="M432,108.6 L434.25,110.02 L436.43,111.43 L438.55,112.85 L440.6,114.27 L442.58,115.68 L444.47,117.1 L446.27,118.52 L447.97,119.93 L449.54,121.35 L450.96,122.77 L452.17,124.18 L453,125.6 L452.17,127.02 L450.96,128.43 L449.54,129.85 L447.97,131.27 L446.27,132.68 L444.47,134.1 L442.58,135.52 L440.6,136.93 L438.55,138.35 L436.43,139.77 L434.25,141.18 L432,142.6" fill="none" stroke="#555" stroke-opacity="1" stroke-width="0.6" stroke-linejoin="round"/>
<path d="M432,111.6 L433.93,112.77 L435.8,113.93 L437.62,115.1 L439.37,116.27 L441.07,117.43 L442.69,118.6 L444.23,119.77 L445.68,120.93 L447.03,122.1 L448.25,123.27 L449.29,124.43 L450,125.6 L449.29,126.77 L448.25,127.93 L447.03,129.1 L445.68,130.27 L444.23,131.43 L442.69,132.6 L441.07,133.77 L439.37,134.93 L437.62,136.1 L435.8,137.27 L433.93,138.43 L432,139.6" fill="none" stroke="#555" stroke-opacity="1" stroke-width="0.6" stroke-linejoin="round"/>
<path d="M432,114.6 L433.6,115.52 L435.17,116.43 L436.68,117.35 L438.15,118.27 L439.56,119.18 L440.91,120.1 L442.19,121.02 L443.4,121.93 L444.53,122.85 L445.54,123.77 L446.41,124.68 L447,125.6 L446.41,126.52 L445.54,127.43 L444.53,128.35 L443.4,129.27 L442.19,130.18 L440.91,131.1 L439.56,132.02 L438.15,132.93 L436.68,133.85 L435.17,134.77 L433.6,135.68 L432,136.6" fill="none" stroke="#555" stroke-opacity="1" stroke-width="0.6" stroke-linejoin="round"/>
<path d="M432,117.6 L433.28,118.27 L434.53,118.93 L435.74,119.6 L436.92,120.27 L438.05,120.93 L439.13,121.6 L440.15,122.27 L441.12,122.93 L442.02,123.6 L442.83,124.27 L443.53,124.93 L444,125.6 L443.53,126.27 L442.83,126.93 L442.02,127.6 L441.12,128.27 L440.15,128.93 L439.13,129.6 L438.05,130.27 L436.92,130.93 L435.74,131.6 L434.53,132.27 L433.28,132.93 L432,133.6" fill="none" stroke="#555" stroke-opacity="1" stroke-width="0.6" stroke-linejoin="round"/>
<ellipse cx="458.5" cy="125.6" rx="5" ry="1.7" fill="#fff"/>
<path d="M438.6,128.8 L438.55,132.87 L438.39,135.72 L438.14,138.2 L437.78,140.45 L437.32,142.51 L436.76,144.41 L436.1,146.15 L435.34,147.73 L434.48,149.18 L433.53,150.47 L432.48,151.62 L431.33,152.61 L430.07,153.46 L428.71,154.16 L427.22,154.7 L425.58,155.09 L423.69,155.32 L421,155.4 L418.31,155.32 L416.42,155.09 L414.78,154.7 L413.29,154.16 L411.93,153.46 L410.67,152.61 L409.52,151.62 L408.47,150.47 L407.52,149.18 L406.66,147.73 L405.9,146.15 L405.24,144.41 L404.68,142.51 L404.22,140.45 L403.86,138.2 L403.61,135.72 L403.45,132.87 L403.4,128.8 L403.45,124.73 L403.61,121.88 L403.86,119.4 L404.22,117.15 L404.68,115.09 L405.24,113.19 L405.9,111.45 L406.66,109.87 L407.52,108.42 L408.47,107.13 L409.52,105.98 L410.67,104.99 L411.93,104.14 L413.29,103.44 L414.78,102.9 L416.42,102.51 L418.31,102.28 L421,102.2 L423.69,102.28 L425.58,102.51 L427.22,102.9 L428.71,103.44 L430.07,104.14 L431.33,104.99 L432.48,105.98 L433.53,107.13 L434.48,108.42 L435.34,109.87 L436.1,111.45 L436.76,113.19 L437.32,115.09 L437.78,117.15 L438.14,119.4 L438.39,121.88 L438.55,124.73Z" fill="url(#gb3)"/>
<path d="M438.31,128.8 L438.34,132.85 L438.26,135.71 L438.07,138.22 L437.76,140.51 L437.31,142.59 L436.73,144.47 L436.02,146.16 L435.19,147.65 L434.26,148.96 L433.25,150.11 L432.15,151.1 L430.99,151.97 L429.76,152.74 L428.44,153.41 L427.02,154 L425.44,154.47 L423.63,154.83 L421,155.05 L418.34,155.1 L416.47,154.96 L414.83,154.63 L413.35,154.11 L412,153.4 L410.78,152.51 L409.66,151.47 L408.65,150.29 L407.72,148.98 L406.89,147.55 L406.13,145.99 L405.46,144.28 L404.89,142.42 L404.41,140.39 L404.05,138.16 L403.81,135.68 L403.7,132.84 L403.71,128.8 L403.84,124.79 L404.07,122.02 L404.38,119.63 L404.77,117.46 L405.23,115.47 L405.76,113.61 L406.34,111.86 L407.01,110.21 L407.76,108.67 L408.62,107.26 L409.59,105.98 L410.69,104.88 L411.92,103.97 L413.28,103.27 L414.78,102.78 L416.45,102.49 L418.33,102.39 L421,102.45 L423.64,102.65 L425.47,102.98 L427.06,103.42 L428.51,103.97 L429.84,104.63 L431.08,105.42 L432.22,106.35 L433.28,107.44 L434.23,108.69 L435.07,110.11 L435.81,111.69 L436.44,113.42 L436.96,115.3 L437.4,117.34 L437.74,119.56 L438.01,121.99 L438.2,124.79Z" fill="none" stroke="#1a1a1a" stroke-opacity="0.37" stroke-width="0.55"/>
<path d="M437.09,128.74 L437.03,132.48 L436.87,135.08 L436.61,137.35 L436.26,139.39 L435.83,141.26 L435.32,143 L434.75,144.61 L434.1,146.13 L433.38,147.53 L432.56,148.83 L431.65,150 L430.62,151.02 L429.48,151.87 L428.21,152.52 L426.81,152.97 L425.26,153.23 L423.5,153.29 L421.02,153.19 L418.58,152.95 L416.89,152.59 L415.43,152.14 L414.11,151.61 L412.88,151.01 L411.73,150.31 L410.64,149.5 L409.63,148.57 L408.7,147.48 L407.85,146.24 L407.11,144.82 L406.48,143.23 L405.96,141.48 L405.55,139.55 L405.25,137.45 L405.05,135.13 L404.93,132.5 L404.89,128.74 L404.93,124.98 L405.06,122.35 L405.26,120.04 L405.57,117.94 L405.98,116.02 L406.5,114.27 L407.13,112.68 L407.88,111.27 L408.72,110.03 L409.65,108.94 L410.65,108 L411.73,107.18 L412.88,106.47 L414.1,105.84 L415.42,105.3 L416.88,104.84 L418.57,104.47 L421.02,104.23 L423.5,104.13 L425.27,104.2 L426.82,104.47 L428.21,104.94 L429.48,105.61 L430.62,106.47 L431.64,107.5 L432.55,108.68 L433.36,109.98 L434.08,111.39 L434.72,112.89 L435.3,114.51 L435.81,116.23 L436.24,118.1 L436.6,120.14 L436.87,122.4 L437.03,125Z" fill="none" stroke="#1a1a1a" stroke-opacity="0.37" stroke-width="0.55"/>
<path d="M435.86,128.9 L435.7,132.35 L435.46,134.72 L435.16,136.77 L434.81,138.62 L434.41,140.32 L433.97,141.92 L433.48,143.43 L432.91,144.85 L432.27,146.18 L431.53,147.39 L430.69,148.46 L429.73,149.39 L428.67,150.14 L427.51,150.74 L426.22,151.17 L424.81,151.45 L423.2,151.59 L420.91,151.62 L418.63,151.54 L417.03,151.34 L415.62,151.04 L414.35,150.61 L413.18,150.05 L412.11,149.34 L411.13,148.47 L410.26,147.44 L409.49,146.27 L408.83,144.96 L408.26,143.53 L407.77,142 L407.35,140.36 L407,138.62 L406.69,136.75 L406.43,134.69 L406.22,132.33 L406.07,128.9 L406,125.41 L406.02,122.93 L406.15,120.74 L406.41,118.76 L406.8,116.95 L407.3,115.33 L407.92,113.87 L408.64,112.59 L409.45,111.46 L410.32,110.46 L411.26,109.58 L412.26,108.8 L413.32,108.12 L414.45,107.53 L415.69,107.03 L417.06,106.65 L418.64,106.4 L420.91,106.29 L423.18,106.34 L424.77,106.54 L426.16,106.9 L427.4,107.4 L428.54,108.02 L429.58,108.75 L430.56,109.59 L431.46,110.52 L432.31,111.55 L433.09,112.69 L433.81,113.97 L434.44,115.4 L434.97,116.99 L435.4,118.76 L435.7,120.73 L435.87,122.9 L435.92,125.39Z" fill="none" stroke="#1a1a1a" stroke-opacity="0.37" stroke-width="0.55"/>
<path d="M434.36,128.79 L434.33,131.91 L434.26,134.11 L434.12,136.06 L433.92,137.85 L433.64,139.52 L433.27,141.06 L432.79,142.47 L432.22,143.75 L431.55,144.89 L430.79,145.89 L429.95,146.76 L429.03,147.51 L428.05,148.16 L426.99,148.71 L425.83,149.16 L424.56,149.51 L423.09,149.75 L420.97,149.86 L418.85,149.82 L417.37,149.63 L416.09,149.27 L414.95,148.76 L413.92,148.1 L413,147.31 L412.17,146.41 L411.42,145.44 L410.73,144.39 L410.08,143.28 L409.48,142.1 L408.91,140.83 L408.39,139.44 L407.93,137.92 L407.54,136.22 L407.24,134.29 L407.05,132.05 L406.98,128.79 L407.03,125.53 L407.19,123.27 L407.46,121.32 L407.82,119.59 L408.25,118.02 L408.75,116.6 L409.3,115.28 L409.91,114.07 L410.57,112.95 L411.29,111.92 L412.09,111 L412.97,110.19 L413.93,109.51 L414.99,108.96 L416.15,108.56 L417.43,108.31 L418.9,108.18 L420.97,108.17 L423.04,108.25 L424.49,108.42 L425.77,108.68 L426.94,109.01 L428.04,109.44 L429.07,109.98 L430.03,110.65 L430.91,111.47 L431.7,112.45 L432.39,113.6 L432.97,114.91 L433.43,116.36 L433.78,117.95 L434.03,119.65 L434.2,121.48 L434.31,123.45 L434.36,125.66Z" fill="none" stroke="#1a1a1a" stroke-opacity="0.37" stroke-width="0.55"/>
<path d="M433.81,128.62 L433.87,131.59 L433.83,133.69 L433.67,135.53 L433.41,137.18 L433.03,138.65 L432.55,139.97 L431.99,141.14 L431.37,142.17 L430.69,143.1 L429.97,143.93 L429.2,144.68 L428.39,145.36 L427.53,145.98 L426.59,146.53 L425.57,146.98 L424.42,147.33 L423.1,147.56 L421.19,147.65 L419.28,147.6 L417.94,147.42 L416.78,147.12 L415.74,146.71 L414.78,146.2 L413.89,145.6 L413.06,144.93 L412.28,144.17 L411.55,143.31 L410.89,142.34 L410.3,141.24 L409.79,140.01 L409.37,138.64 L409.06,137.12 L408.86,135.45 L408.76,133.61 L408.76,131.53 L408.83,128.62 L408.96,125.76 L409.14,123.79 L409.35,122.07 L409.59,120.5 L409.87,119.03 L410.19,117.64 L410.57,116.32 L411.02,115.08 L411.56,113.94 L412.19,112.92 L412.91,112.03 L413.74,111.29 L414.65,110.7 L415.65,110.25 L416.74,109.93 L417.93,109.72 L419.28,109.61 L421.19,109.59 L423.1,109.66 L424.44,109.81 L425.61,110.06 L426.68,110.43 L427.66,110.91 L428.54,111.53 L429.34,112.28 L430.06,113.16 L430.69,114.16 L431.24,115.25 L431.72,116.43 L432.15,117.68 L432.53,119.02 L432.88,120.44 L433.18,121.99 L433.45,123.71 L433.66,125.71Z" fill="none" stroke="#1a1a1a" stroke-opacity="0.37" stroke-width="0.55"/>
<path d="M432.18,129.11 L432.11,131.71 L431.99,133.52 L431.82,135.11 L431.61,136.55 L431.36,137.9 L431.06,139.18 L430.71,140.38 L430.29,141.51 L429.8,142.55 L429.22,143.48 L428.54,144.27 L427.78,144.92 L426.93,145.42 L426,145.76 L425,145.97 L423.91,146.05 L422.69,146.05 L420.98,145.98 L419.3,145.85 L418.12,145.69 L417.08,145.47 L416.13,145.21 L415.24,144.86 L414.4,144.43 L413.62,143.88 L412.91,143.2 L412.26,142.4 L411.7,141.47 L411.22,140.43 L410.81,139.27 L410.47,138.02 L410.19,136.67 L409.97,135.21 L409.79,133.6 L409.67,131.75 L409.6,129.11 L409.6,126.44 L409.68,124.57 L409.84,122.94 L410.09,121.47 L410.43,120.16 L410.85,118.98 L411.35,117.94 L411.9,117.01 L412.51,116.18 L413.15,115.44 L413.82,114.75 L414.53,114.1 L415.29,113.5 L416.11,112.95 L417.02,112.45 L418.04,112.03 L419.23,111.73 L420.98,111.55 L422.75,111.53 L423.99,111.67 L425.07,111.96 L426.02,112.39 L426.87,112.95 L427.64,113.61 L428.34,114.35 L428.97,115.16 L429.56,116.03 L430.09,116.97 L430.58,117.98 L431.02,119.08 L431.4,120.27 L431.71,121.59 L431.95,123.04 L432.1,124.64 L432.18,126.49Z" fill="none" stroke="#1a1a1a" stroke-opacity="0.22" stroke-width="0.55"/>
<path d="M430.64,128.57 L430.68,130.91 L430.65,132.56 L430.56,134.03 L430.39,135.36 L430.14,136.57 L429.82,137.68 L429.42,138.68 L428.97,139.58 L428.46,140.4 L427.91,141.14 L427.31,141.81 L426.66,142.42 L425.96,142.96 L425.19,143.42 L424.34,143.78 L423.38,144.03 L422.29,144.16 L420.72,144.16 L419.16,144.03 L418.1,143.78 L417.19,143.42 L416.38,142.99 L415.65,142.5 L414.97,141.96 L414.34,141.39 L413.73,140.78 L413.15,140.12 L412.6,139.4 L412.08,138.59 L411.62,137.68 L411.21,136.64 L410.88,135.47 L410.65,134.16 L410.5,132.68 L410.44,130.98 L410.47,128.57 L410.57,126.19 L410.72,124.56 L410.93,123.14 L411.17,121.87 L411.45,120.7 L411.76,119.61 L412.13,118.6 L412.54,117.66 L413.02,116.81 L413.55,116.06 L414.16,115.4 L414.83,114.86 L415.56,114.41 L416.35,114.07 L417.21,113.8 L418.14,113.61 L419.2,113.47 L420.72,113.37 L422.25,113.33 L423.34,113.35 L424.32,113.45 L425.21,113.64 L426.04,113.95 L426.81,114.4 L427.49,114.98 L428.09,115.7 L428.6,116.54 L429.03,117.49 L429.38,118.52 L429.67,119.62 L429.91,120.77 L430.11,121.98 L430.28,123.27 L430.43,124.67 L430.55,126.27Z" fill="none" stroke="#9a9a9a" stroke-opacity="0.45" stroke-width="0.55"/>
<path d="M429.92,128.72 L429.85,130.77 L429.76,132.2 L429.64,133.46 L429.48,134.6 L429.27,135.66 L429.02,136.65 L428.7,137.55 L428.32,138.36 L427.89,139.08 L427.39,139.72 L426.85,140.27 L426.26,140.75 L425.63,141.16 L424.96,141.53 L424.23,141.85 L423.42,142.12 L422.48,142.34 L421.11,142.49 L419.72,142.55 L418.74,142.5 L417.88,142.33 L417.11,142.03 L416.42,141.61 L415.82,141.07 L415.29,140.43 L414.82,139.72 L414.41,138.96 L414.05,138.15 L413.71,137.32 L413.4,136.45 L413.11,135.53 L412.83,134.54 L412.59,133.45 L412.39,132.23 L412.24,130.81 L412.15,128.72 L412.14,126.62 L412.21,125.14 L412.34,123.86 L412.55,122.71 L412.81,121.67 L413.12,120.71 L413.47,119.84 L413.85,119.03 L414.28,118.28 L414.75,117.6 L415.27,116.98 L415.84,116.44 L416.48,115.99 L417.18,115.64 L417.95,115.41 L418.8,115.29 L419.76,115.27 L421.11,115.34 L422.44,115.48 L423.36,115.67 L424.16,115.89 L424.89,116.15 L425.58,116.43 L426.24,116.76 L426.87,117.14 L427.47,117.6 L428.02,118.16 L428.52,118.83 L428.95,119.61 L429.3,120.51 L429.58,121.53 L429.77,122.64 L429.89,123.85 L429.94,125.17 L429.95,126.65Z" fill="none" stroke="#1a1a1a" stroke-opacity="0.22" stroke-width="0.55"/>
<path d="M429.12,129.22 L429.15,131.05 L429.12,132.35 L429.03,133.49 L428.86,134.51 L428.62,135.42 L428.32,136.22 L427.96,136.92 L427.55,137.53 L427.12,138.06 L426.66,138.54 L426.19,138.98 L425.7,139.39 L425.18,139.78 L424.62,140.15 L424.01,140.48 L423.33,140.77 L422.52,140.99 L421.34,141.12 L420.15,141.15 L419.3,141.08 L418.57,140.9 L417.92,140.62 L417.33,140.26 L416.8,139.84 L416.31,139.35 L415.87,138.81 L415.46,138.23 L415.08,137.6 L414.73,136.91 L414.43,136.15 L414.18,135.32 L413.98,134.4 L413.83,133.39 L413.75,132.28 L413.73,131.01 L413.77,129.22 L413.84,127.46 L413.94,126.24 L414.07,125.18 L414.22,124.21 L414.38,123.29 L414.57,122.42 L414.78,121.58 L415.04,120.79 L415.36,120.05 L415.73,119.38 L416.17,118.81 L416.68,118.34 L417.26,117.98 L417.89,117.73 L418.58,117.58 L419.33,117.53 L420.17,117.54 L421.34,117.6 L422.5,117.7 L423.3,117.84 L424,118 L424.65,118.21 L425.25,118.46 L425.81,118.78 L426.33,119.18 L426.8,119.66 L427.22,120.22 L427.59,120.86 L427.91,121.58 L428.18,122.36 L428.41,123.2 L428.62,124.1 L428.79,125.08 L428.93,126.16 L429.05,127.41Z" fill="none" stroke="#1a1a1a" stroke-opacity="0.22" stroke-width="0.55"/>
<path d="M427.18,128.27 L427.23,129.8 L427.24,130.89 L427.19,131.85 L427.08,132.73 L426.91,133.52 L426.68,134.23 L426.41,134.86 L426.09,135.42 L425.75,135.93 L425.38,136.38 L424.98,136.79 L424.56,137.16 L424.1,137.49 L423.6,137.77 L423.06,137.99 L422.45,138.14 L421.75,138.22 L420.76,138.21 L419.77,138.13 L419.1,137.98 L418.51,137.77 L417.99,137.52 L417.51,137.24 L417.06,136.93 L416.64,136.6 L416.22,136.24 L415.83,135.84 L415.45,135.39 L415.11,134.86 L414.81,134.26 L414.55,133.57 L414.36,132.78 L414.24,131.9 L414.18,130.93 L414.18,129.82 L414.23,128.27 L414.32,126.75 L414.44,125.72 L414.58,124.82 L414.73,124.02 L414.9,123.27 L415.09,122.56 L415.3,121.9 L415.54,121.27 L415.83,120.7 L416.16,120.19 L416.53,119.74 L416.96,119.36 L417.42,119.06 L417.93,118.81 L418.48,118.63 L419.08,118.49 L419.77,118.39 L420.76,118.33 L421.76,118.31 L422.46,118.33 L423.09,118.41 L423.66,118.57 L424.19,118.8 L424.66,119.13 L425.08,119.54 L425.44,120.04 L425.75,120.61 L426.01,121.23 L426.22,121.9 L426.4,122.59 L426.56,123.32 L426.71,124.07 L426.85,124.88 L426.98,125.76 L427.09,126.78Z" fill="none" stroke="#9a9a9a" stroke-opacity="0.45" stroke-width="0.55"/>
<path d="M425.91,129.06 L425.89,130.3 L425.84,131.17 L425.77,131.93 L425.69,132.63 L425.58,133.29 L425.44,133.9 L425.26,134.47 L425.05,134.99 L424.79,135.45 L424.49,135.84 L424.14,136.16 L423.76,136.4 L423.35,136.57 L422.92,136.69 L422.46,136.77 L421.97,136.82 L421.42,136.86 L420.64,136.88 L419.86,136.9 L419.3,136.9 L418.8,136.87 L418.33,136.8 L417.89,136.68 L417.48,136.48 L417.11,136.21 L416.78,135.86 L416.5,135.44 L416.25,134.96 L416.05,134.44 L415.88,133.87 L415.74,133.26 L415.62,132.62 L415.52,131.92 L415.44,131.17 L415.39,130.3 L415.36,129.06 L415.37,127.81 L415.42,126.94 L415.5,126.19 L415.63,125.52 L415.8,124.91 L416,124.37 L416.22,123.88 L416.46,123.43 L416.71,123.01 L416.98,122.61 L417.27,122.22 L417.57,121.85 L417.92,121.51 L418.3,121.2 L418.73,120.95 L419.22,120.76 L419.8,120.66 L420.64,120.64 L421.47,120.7 L422.04,120.84 L422.53,121.05 L422.95,121.32 L423.33,121.61 L423.67,121.93 L423.99,122.27 L424.29,122.62 L424.58,123 L424.85,123.4 L425.1,123.84 L425.32,124.33 L425.52,124.88 L425.67,125.5 L425.79,126.18 L425.87,126.94 L425.9,127.82Z" fill="none" stroke="#1a1a1a" stroke-opacity="0.22" stroke-width="0.55"/>
<path d="M425.48,129.07 L425.47,130.03 L425.42,130.71 L425.35,131.29 L425.27,131.82 L425.17,132.31 L425.05,132.78 L424.92,133.21 L424.76,133.62 L424.58,134 L424.37,134.33 L424.12,134.62 L423.85,134.86 L423.54,135.03 L423.2,135.15 L422.83,135.21 L422.44,135.22 L422,135.2 L421.4,135.16 L420.8,135.11 L420.38,135.05 L420.01,134.99 L419.66,134.91 L419.33,134.82 L419.01,134.69 L418.72,134.53 L418.44,134.3 L418.19,134.02 L417.98,133.69 L417.8,133.29 L417.66,132.85 L417.55,132.37 L417.47,131.86 L417.42,131.3 L417.38,130.7 L417.35,130.03 L417.34,129.07 L417.35,128.1 L417.38,127.43 L417.43,126.83 L417.51,126.3 L417.62,125.81 L417.76,125.38 L417.93,124.99 L418.13,124.64 L418.34,124.34 L418.57,124.06 L418.81,123.81 L419.07,123.57 L419.34,123.34 L419.63,123.12 L419.96,122.93 L420.32,122.76 L420.76,122.63 L421.4,122.55 L422.04,122.53 L422.5,122.59 L422.89,122.71 L423.23,122.89 L423.53,123.13 L423.79,123.4 L424.02,123.71 L424.24,124.03 L424.43,124.36 L424.61,124.71 L424.79,125.07 L424.95,125.46 L425.1,125.87 L425.23,126.33 L425.34,126.85 L425.42,127.42 L425.47,128.1Z" fill="none" stroke="#1a1a1a" stroke-opacity="0.22" stroke-width="0.55"/>
<ellipse cx="421" cy="128.8" rx="0.9" ry="3.6" fill="#fff" fill-opacity="0.85"/>
<path d="M427.55,109.18 L426.26,108.72 L424.81,108.4 L423.11,108.23 L420.46,108.21 L418.62,108.34 L417.12,108.62 L415.79,109.04 L414.59,109.61 L413.5,110.33 L412.5,111.19 L411.6,112.19 L410.79,113.33 L410.07,114.62 L409.45,116.04 L408.92,117.61 L408.48,119.33 L408.14,121.23 L407.9,123.33 L407.75,125.74 L407.7,129.2 L407.75,132.66 L407.9,135.07 L408.14,137.17 L408.48,139.07 L408.92,140.79 L409.45,142.36 L410.07,143.78 L410.79,145.07 L411.6,146.21 L412.5,147.21 L413.5,148.07 L414.59,148.79 L415.79,149.36 L417.12,149.78 L418.62,150.06 L420.46,150.19 L423.11,150.17 L424.81,150 L426.26,149.68 L427.55,149.22" fill="none" stroke="#1e1e1e" stroke-width="1.8" stroke-linecap="round"/>
<path d="M428.72,111.92 L427.66,111.2 L426.48,110.63 L425.17,110.23 L423.67,109.98 L421.5,109.9 L419.33,109.98 L417.83,110.23 L416.52,110.63 L415.34,111.2 L414.28,111.92 L413.33,112.8 L412.47,113.84 L411.71,115.03 L411.05,116.38 L410.49,117.88 L410.03,119.54 L409.67,121.38 L409.41,123.43 L409.25,125.8 L409.2,129.2 L409.25,132.6 L409.41,134.97 L409.67,137.02 L410.03,138.86 L410.49,140.52 L411.05,142.02 L411.71,143.37 L412.47,144.56 L413.33,145.6 L414.28,146.48 L415.34,147.2 L416.52,147.77 L417.83,148.17 L419.33,148.42 L421.5,148.5 L423.67,148.42 L425.17,148.17 L426.48,147.77 L427.66,147.2 L428.72,146.48" fill="none" stroke="#333" stroke-width="0.8" stroke-opacity="0.7"/>
<path d="M99.6,166.9 V99.6 H178.9 V166.9" fill="none" stroke="#444" stroke-width="1.2"/>
<text x="62.4" y="57.2" font-size="12.25" text-anchor="start" font-weight="normal" fill="#111" word-spacing="1.6">Fresh RBCs</text>
<text x="175.5" y="158.4" font-size="9.5" text-anchor="end" font-weight="bold" fill="#222" >1.33</text>
<path d="M266,166.9 V99.6 H344.6 V166.9" fill="none" stroke="#444" stroke-width="1.2"/>
<text x="228.9" y="57.2" font-size="12.25" text-anchor="start" font-weight="normal" fill="#111" word-spacing="1.6">Stored RBCs</text>
<text x="342" y="158.4" font-size="9.5" text-anchor="end" font-weight="bold" fill="#222" >12.4</text>
<path d="M435.2,166.9 V99.6 H513.3 V166.9" fill="none" stroke="#444" stroke-width="1.2"/>
<text x="397.9" y="57.2" font-size="12.25" text-anchor="start" font-weight="normal" fill="#111" word-spacing="1.6">IgG-coated RBCs</text>
<text x="511" y="158.4" font-size="9.5" text-anchor="end" font-weight="bold" fill="#222" >25.2</text>
<circle cx="86.3" cy="75.5" r="0.7" fill="#bbb"/>
<circle cx="85" cy="98.8" r="0.7" fill="#bbb"/>
<circle cx="132.5" cy="123" r="0.7" fill="#bbb"/>
<circle cx="132" cy="137" r="0.7" fill="#bbb"/>
<circle cx="118.3" cy="140" r="0.7" fill="#bbb"/>
<circle cx="106.3" cy="129.5" r="0.7" fill="#bbb"/>
<circle cx="110" cy="135.5" r="0.7" fill="#bbb"/>
<circle cx="104" cy="116" r="0.7" fill="#bbb"/>
<circle cx="258" cy="66.8" r="0.7" fill="#bbb"/>
<circle cx="250.5" cy="77" r="0.7" fill="#bbb"/>
<circle cx="265" cy="81.3" r="0.7" fill="#bbb"/>
<circle cx="249.5" cy="93.3" r="0.7" fill="#bbb"/>
<circle cx="290" cy="108" r="0.7" fill="#bbb"/>
<circle cx="316.3" cy="118.8" r="0.7" fill="#bbb"/>
<circle cx="323" cy="128.8" r="0.7" fill="#bbb"/>
<circle cx="325.5" cy="137.5" r="0.7" fill="#bbb"/>
<circle cx="305" cy="141.3" r="0.7" fill="#bbb"/>
<circle cx="283.8" cy="152.5" r="0.7" fill="#bbb"/>
<circle cx="278.8" cy="160.5" r="0.7" fill="#bbb"/>
<circle cx="431.3" cy="65" r="0.7" fill="#bbb"/>
<circle cx="427" cy="77.5" r="0.7" fill="#bbb"/>
<circle cx="445.5" cy="95.8" r="0.7" fill="#bbb"/>
<circle cx="461.3" cy="96.3" r="0.7" fill="#bbb"/>
<circle cx="484.5" cy="128.8" r="0.7" fill="#bbb"/>
<circle cx="481.3" cy="108.8" r="0.7" fill="#bbb"/>
<circle cx="462.5" cy="148" r="0.7" fill="#bbb"/>
<circle cx="488" cy="134" r="0.7" fill="#bbb"/>
<text transform="translate(20.4,160.2) rotate(-90)" font-size="15" fill="#000">Ter119</text>
<line x1="14.3" y1="47" x2="14.3" y2="103.4" stroke="#000" stroke-width="2.6" />
<path d="M9.2,52 L14.3,45.2 L19.4,52" fill="none" stroke="#000" stroke-width="2.5"/>
<text x="53.7" y="207.1" font-size="15.3" text-anchor="start" font-weight="normal" fill="#000" >GFP</text>
<line x1="90" y1="203.1" x2="190" y2="203.1" stroke="#000" stroke-width="2.7" />
<path d="M184.8,198.6 L191,203.1 L184.8,207.6" fill="none" stroke="#000" stroke-width="2.5"/>
<text x="13.3" y="222.9" font-size="15.8" text-anchor="start" font-weight="normal" fill="#000" >B.</text>
<path d="M49.6,224.4 H195.5 V369.4" fill="none" stroke="#6a6a6a" stroke-width="1.2"/>
<line x1="49.6" y1="223.8" x2="49.6" y2="369.4" stroke="#3a3a3a" stroke-width="1.3" />
<line x1="45.6" y1="235.8" x2="49.6" y2="235.8" stroke="#333" stroke-width="1.3" />
<text x="42.9" y="240.4" font-size="6.8" text-anchor="end" font-weight="normal" fill="#2a2a2a" >0.010</text>
<line x1="45.6" y1="262.52" x2="49.6" y2="262.52" stroke="#333" stroke-width="1.3" />
<text x="42.9" y="267.12" font-size="6.8" text-anchor="end" font-weight="normal" fill="#2a2a2a" >0.008</text>
<line x1="45.6" y1="289.24" x2="49.6" y2="289.24" stroke="#333" stroke-width="1.3" />
<text x="42.9" y="293.84" font-size="6.8" text-anchor="end" font-weight="normal" fill="#2a2a2a" >0.006</text>
<line x1="45.6" y1="315.96" x2="49.6" y2="315.96" stroke="#333" stroke-width="1.3" />
<text x="42.9" y="320.56" font-size="6.8" text-anchor="end" font-weight="normal" fill="#2a2a2a" >0.004</text>
<line x1="45.6" y1="342.68" x2="49.6" y2="342.68" stroke="#333" stroke-width="1.3" />
<text x="42.9" y="347.28" font-size="6.8" text-anchor="end" font-weight="normal" fill="#2a2a2a" >0.002</text>
<line x1="45.6" y1="369.4" x2="49.6" y2="369.4" stroke="#333" stroke-width="1.3" />
<text x="42.8" y="369.2" font-size="6.8" text-anchor="end" font-weight="normal" fill="#2a2a2a" >0</text>
<line x1="47.8" y1="229.12" x2="49.6" y2="229.12" stroke="#333" stroke-width="1" />
<line x1="47.8" y1="235.8" x2="49.6" y2="235.8" stroke="#333" stroke-width="1" />
<line x1="47.8" y1="242.48" x2="49.6" y2="242.48" stroke="#333" stroke-width="1" />
<line x1="47.8" y1="249.16" x2="49.6" y2="249.16" stroke="#333" stroke-width="1" />
<line x1="47.8" y1="255.84" x2="49.6" y2="255.84" stroke="#333" stroke-width="1" />
<line x1="47.8" y1="262.52" x2="49.6" y2="262.52" stroke="#333" stroke-width="1" />
<line x1="47.8" y1="269.2" x2="49.6" y2="269.2" stroke="#333" stroke-width="1" />
<line x1="47.8" y1="275.88" x2="49.6" y2="275.88" stroke="#333" stroke-width="1" />
<line x1="47.8" y1="282.56" x2="49.6" y2="282.56" stroke="#333" stroke-width="1" />
<line x1="47.8" y1="289.24" x2="49.6" y2="289.24" stroke="#333" stroke-width="1" />
<line x1="47.8" y1="295.92" x2="49.6" y2="295.92" stroke="#333" stroke-width="1" />
<line x1="47.8" y1="302.6" x2="49.6" y2="302.6" stroke="#333" stroke-width="1" />
<line x1="47.8" y1="309.28" x2="49.6" y2="309.28" stroke="#333" stroke-width="1" />
<line x1="47.8" y1="315.96" x2="49.6" y2="315.96" stroke="#333" stroke-width="1" />
<line x1="47.8" y1="322.64" x2="49.6" y2="322.64" stroke="#333" stroke-width="1" />
<line x1="47.8" y1="329.32" x2="49.6" y2="329.32" stroke="#333" stroke-width="1" />
<line x1="47.8" y1="336" x2="49.6" y2="336" stroke="#333" stroke-width="1" />
<line x1="47.8" y1="342.68" x2="49.6" y2="342.68" stroke="#333" stroke-width="1" />
<line x1="47.8" y1="349.36" x2="49.6" y2="349.36" stroke="#333" stroke-width="1" />
<line x1="47.8" y1="356.04" x2="49.6" y2="356.04" stroke="#333" stroke-width="1" />
<line x1="47.8" y1="362.72" x2="49.6" y2="362.72" stroke="#333" stroke-width="1" />
<clipPath id="c1"><polygon points="50.3,369.3 125,369.2 129,369 133,368.5 137,366.5 139,361.8 140.4,357 141.3,352.5 141.6,346 142.2,337 143,328.6 144.3,325.2 146.3,325.2 148.3,322.6 149,316.6 150,306 150.3,295.3 151,290 151.6,282 152.3,275 153,270.8 153.8,273.5 154.4,275.6 155.3,266 156.2,259 157.1,256.3 158,259 159,265 159.7,267.9 160.6,268.6 161.6,268.4 162.6,271 163.5,275 165,282 166.5,290 167.6,298 169.3,301.5 170.9,304.6 172.9,307.3 174.2,306.2 175,306 176.3,308.5 178,316 179.5,325.6 181,331 182.7,336.3 184,344 184.8,351.3 186,358 187,364 189,369.3 195.8,369.3"/></clipPath>
<polygon points="50.3,369.3 125,369.2 129,369 133,368.5 137,366.5 139,361.8 140.4,357 141.3,352.5 141.6,346 142.2,337 143,328.6 144.3,325.2 146.3,325.2 148.3,322.6 149,316.6 150,306 150.3,295.3 151,290 151.6,282 152.3,275 153,270.8 153.8,273.5 154.4,275.6 155.3,266 156.2,259 157.1,256.3 158,259 159,265 159.7,267.9 160.6,268.6 161.6,268.4 162.6,271 163.5,275 165,282 166.5,290 167.6,298 169.3,301.5 170.9,304.6 172.9,307.3 174.2,306.2 175,306 176.3,308.5 178,316 179.5,325.6 181,331 182.7,336.3 184,344 184.8,351.3 186,358 187,364 189,369.3 195.8,369.3" fill="#84dff5"/>
<polygon points="50.3,369.3 130,369.2 134,368.6 136.5,367.2 138.3,365.1 140.5,362 143.6,356.5 146,352.5 148.3,348.5 150.5,344.5 152.3,340.5 154.3,332.6 155.6,323.2 156.9,310 158.2,298 159.3,290 159.7,284 160.8,278 161.8,273 163,270.8 164.2,272.5 165.5,274.1 166.8,272 168,266 169.2,257 170.3,249 171.3,245 172.4,243.4 173.5,244.5 174.5,247.5 175.6,251.5 176.6,259 177.5,267 178.7,277 179.9,288 181.6,310.6 183.7,330 185.8,351 187,359 188,365 190.2,369.3 195.8,369.3" fill="#f6a6a6"/>
<polygon points="50.3,369.3 130,369.2 134,368.6 136.5,367.2 138.3,365.1 140.5,362 143.6,356.5 146,352.5 148.3,348.5 150.5,344.5 152.3,340.5 154.3,332.6 155.6,323.2 156.9,310 158.2,298 159.3,290 159.7,284 160.8,278 161.8,273 163,270.8 164.2,272.5 165.5,274.1 166.8,272 168,266 169.2,257 170.3,249 171.3,245 172.4,243.4 173.5,244.5 174.5,247.5 175.6,251.5 176.6,259 177.5,267 178.7,277 179.9,288 181.6,310.6 183.7,330 185.8,351 187,359 188,365 190.2,369.3 195.8,369.3" fill="#97b7cc" clip-path="url(#c1)"/>
<polyline points="50.3,369.3 130,369.2 134,368.6 136.5,367.2 138.3,365.1 140.5,362 143.6,356.5 146,352.5 148.3,348.5 150.5,344.5 152.3,340.5 154.3,332.6 155.6,323.2 156.9,310 158.2,298 159.3,290 159.7,284 160.8,278 161.8,273 163,270.8 164.2,272.5 165.5,274.1 166.8,272 168,266 169.2,257 170.3,249 171.3,245 172.4,243.4 173.5,244.5 174.5,247.5 175.6,251.5 176.6,259 177.5,267 178.7,277 179.9,288 181.6,310.6 183.7,330 185.8,351 187,359 188,365 190.2,369.3 195.8,369.3" fill="none" stroke="#e86a70" stroke-width="1.1"/>
<polyline points="50.3,369.3 130,369.2 134,368.6 136.5,367.2 138.3,365.1 140.5,362 143.6,356.5 146,352.5 148.3,348.5 150.5,344.5 152.3,340.5 154.3,332.6 155.6,323.2 156.9,310 158.2,298 159.3,290 159.7,284 160.8,278 161.8,273 163,270.8 164.2,272.5 165.5,274.1 166.8,272 168,266 169.2,257 170.3,249 171.3,245 172.4,243.4 173.5,244.5 174.5,247.5 175.6,251.5 176.6,259 177.5,267 178.7,277 179.9,288 181.6,310.6 183.7,330 185.8,351 187,359 188,365 190.2,369.3 195.8,369.3" fill="none" stroke="#6f8fb0" stroke-width="1.1" clip-path="url(#c1)"/>
<polyline points="50.3,369.3 125,369.2 129,369 133,368.5 137,366.5 139,361.8 140.4,357 141.3,352.5 141.6,346 142.2,337 143,328.6 144.3,325.2 146.3,325.2 148.3,322.6 149,316.6 150,306 150.3,295.3 151,290 151.6,282 152.3,275 153,270.8 153.8,273.5 154.4,275.6 155.3,266 156.2,259 157.1,256.3 158,259 159,265 159.7,267.9 160.6,268.6 161.6,268.4 162.6,271 163.5,275 165,282 166.5,290 167.6,298 169.3,301.5 170.9,304.6 172.9,307.3 174.2,306.2 175,306 176.3,308.5 178,316 179.5,325.6 181,331 182.7,336.3 184,344 184.8,351.3 186,358 187,364 189,369.3 195.8,369.3" fill="none" stroke="#3cc6e2" stroke-width="1.1"/>
<line x1="49.6" y1="369.9" x2="195.5" y2="369.9" stroke="#2d6570" stroke-width="1.0" />
<line x1="56" y1="369.4" x2="56" y2="373.4" stroke="#333" stroke-width="1.3" />
<line x1="107.9" y1="369.4" x2="107.9" y2="373.4" stroke="#333" stroke-width="1.3" />
<line x1="147.4" y1="369.4" x2="147.4" y2="373.4" stroke="#333" stroke-width="1.3" />
<line x1="181.2" y1="369.4" x2="181.2" y2="373.4" stroke="#333" stroke-width="1.3" />
<line x1="119.79" y1="369.4" x2="119.79" y2="371.6" stroke="#333" stroke-width="0.9" />
<line x1="126.75" y1="369.4" x2="126.75" y2="371.6" stroke="#333" stroke-width="0.9" />
<line x1="131.68" y1="369.4" x2="131.68" y2="371.6" stroke="#333" stroke-width="0.9" />
<line x1="135.51" y1="369.4" x2="135.51" y2="371.6" stroke="#333" stroke-width="0.9" />
<line x1="138.64" y1="369.4" x2="138.64" y2="371.6" stroke="#333" stroke-width="0.9" />
<line x1="141.28" y1="369.4" x2="141.28" y2="371.6" stroke="#333" stroke-width="0.9" />
<line x1="143.57" y1="369.4" x2="143.57" y2="371.6" stroke="#333" stroke-width="0.9" />
<line x1="145.59" y1="369.4" x2="145.59" y2="371.6" stroke="#333" stroke-width="0.9" />
<line x1="157.57" y1="369.4" x2="157.57" y2="371.6" stroke="#333" stroke-width="0.9" />
<line x1="163.53" y1="369.4" x2="163.53" y2="371.6" stroke="#333" stroke-width="0.9" />
<line x1="167.75" y1="369.4" x2="167.75" y2="371.6" stroke="#333" stroke-width="0.9" />
<line x1="171.03" y1="369.4" x2="171.03" y2="371.6" stroke="#333" stroke-width="0.9" />
<line x1="173.7" y1="369.4" x2="173.7" y2="371.6" stroke="#333" stroke-width="0.9" />
<line x1="175.96" y1="369.4" x2="175.96" y2="371.6" stroke="#333" stroke-width="0.9" />
<line x1="177.92" y1="369.4" x2="177.92" y2="371.6" stroke="#333" stroke-width="0.9" />
<line x1="179.65" y1="369.4" x2="179.65" y2="371.6" stroke="#333" stroke-width="0.9" />
<line x1="63.5" y1="369.4" x2="63.5" y2="371.4" stroke="#333" stroke-width="0.8" />
<line x1="67.5" y1="369.4" x2="67.5" y2="371.4" stroke="#333" stroke-width="0.8" />
<line x1="70.5" y1="369.4" x2="70.5" y2="371.4" stroke="#333" stroke-width="0.8" />
<line x1="73.5" y1="369.4" x2="73.5" y2="371.4" stroke="#333" stroke-width="0.8" />
<line x1="76" y1="369.4" x2="76" y2="371.4" stroke="#333" stroke-width="0.8" />
<line x1="78.5" y1="369.4" x2="78.5" y2="371.4" stroke="#333" stroke-width="0.8" />
<line x1="86.5" y1="369.4" x2="86.5" y2="371.4" stroke="#333" stroke-width="0.8" />
<line x1="89" y1="369.4" x2="89" y2="371.4" stroke="#333" stroke-width="0.8" />
<line x1="91.5" y1="369.4" x2="91.5" y2="371.4" stroke="#333" stroke-width="0.8" />
<line x1="94.5" y1="369.4" x2="94.5" y2="371.4" stroke="#333" stroke-width="0.8" />
<line x1="97.5" y1="369.4" x2="97.5" y2="371.4" stroke="#333" stroke-width="0.8" />
<line x1="101.5" y1="369.4" x2="101.5" y2="371.4" stroke="#333" stroke-width="0.8" />
<rect x="79.5" y="369.4" width="6" height="3" fill="#111" stroke="none" stroke-width="1" />
<text x="58.4" y="388.3" font-size="7" text-anchor="middle" fill="#333">-10<tspan font-size="6.2" dx="0.3" dy="-5.6">3</tspan></text>
<text x="110.3" y="388.3" font-size="7" text-anchor="middle" fill="#333">10<tspan font-size="6.2" dx="0.3" dy="-5.6">3</tspan></text>
<text x="149.8" y="388.3" font-size="7" text-anchor="middle" fill="#333">10<tspan font-size="6.2" dx="0.3" dy="-5.6">4</tspan></text>
<text x="183.6" y="388.3" font-size="7" text-anchor="middle" fill="#333">10<tspan font-size="6.2" dx="0.3" dy="-5.6">5</tspan></text>
<text x="82.5" y="388.3" font-size="7" text-anchor="middle" font-weight="normal" fill="#333" >0</text>
<rect x="67.6" y="238" width="12.4" height="12.2" fill="#84dcee" stroke="none" stroke-width="1" />
<rect x="67.6" y="256.2" width="12.4" height="12.2" fill="#f5aaa4" stroke="none" stroke-width="1" />
<text x="87.6" y="248.6" font-size="11.6" text-anchor="start" font-weight="normal" fill="#111" >GFP -</text>
<text x="87.6" y="266.9" font-size="11.6" text-anchor="start" font-weight="normal" fill="#111" >GFP +</text>
<text x="98.1" y="407.7" font-size="15.4" text-anchor="start" font-weight="normal" fill="#000" >MHC II</text>
<path d="M50.6,421.3 H196.3 V566.2" fill="none" stroke="#6a6a6a" stroke-width="1.2"/>
<line x1="50.6" y1="420.7" x2="50.6" y2="566.2" stroke="#3a3a3a" stroke-width="1.3" />
<line x1="46.6" y1="432.7" x2="50.6" y2="432.7" stroke="#333" stroke-width="1.3" />
<text x="43.9" y="437.3" font-size="6.8" text-anchor="end" font-weight="normal" fill="#2a2a2a" >0.010</text>
<line x1="46.6" y1="459.4" x2="50.6" y2="459.4" stroke="#333" stroke-width="1.3" />
<text x="43.9" y="464" font-size="6.8" text-anchor="end" font-weight="normal" fill="#2a2a2a" >0.008</text>
<line x1="46.6" y1="486.1" x2="50.6" y2="486.1" stroke="#333" stroke-width="1.3" />
<text x="43.9" y="490.7" font-size="6.8" text-anchor="end" font-weight="normal" fill="#2a2a2a" >0.006</text>
<line x1="46.6" y1="512.8" x2="50.6" y2="512.8" stroke="#333" stroke-width="1.3" />
<text x="43.9" y="517.4" font-size="6.8" text-anchor="end" font-weight="normal" fill="#2a2a2a" >0.004</text>
<line x1="46.6" y1="539.5" x2="50.6" y2="539.5" stroke="#333" stroke-width="1.3" />
<text x="43.9" y="544.1" font-size="6.8" text-anchor="end" font-weight="normal" fill="#2a2a2a" >0.002</text>
<line x1="46.6" y1="566.2" x2="50.6" y2="566.2" stroke="#333" stroke-width="1.3" />
<text x="43.8" y="566" font-size="6.8" text-anchor="end" font-weight="normal" fill="#2a2a2a" >0</text>
<line x1="48.8" y1="426.03" x2="50.6" y2="426.03" stroke="#333" stroke-width="1" />
<line x1="48.8" y1="432.7" x2="50.6" y2="432.7" stroke="#333" stroke-width="1" />
<line x1="48.8" y1="439.38" x2="50.6" y2="439.38" stroke="#333" stroke-width="1" />
<line x1="48.8" y1="446.05" x2="50.6" y2="446.05" stroke="#333" stroke-width="1" />
<line x1="48.8" y1="452.73" x2="50.6" y2="452.73" stroke="#333" stroke-width="1" />
<line x1="48.8" y1="459.4" x2="50.6" y2="459.4" stroke="#333" stroke-width="1" />
<line x1="48.8" y1="466.08" x2="50.6" y2="466.08" stroke="#333" stroke-width="1" />
<line x1="48.8" y1="472.75" x2="50.6" y2="472.75" stroke="#333" stroke-width="1" />
<line x1="48.8" y1="479.43" x2="50.6" y2="479.43" stroke="#333" stroke-width="1" />
<line x1="48.8" y1="486.1" x2="50.6" y2="486.1" stroke="#333" stroke-width="1" />
<line x1="48.8" y1="492.78" x2="50.6" y2="492.78" stroke="#333" stroke-width="1" />
<line x1="48.8" y1="499.45" x2="50.6" y2="499.45" stroke="#333" stroke-width="1" />
<line x1="48.8" y1="506.13" x2="50.6" y2="506.13" stroke="#333" stroke-width="1" />
<line x1="48.8" y1="512.8" x2="50.6" y2="512.8" stroke="#333" stroke-width="1" />
<line x1="48.8" y1="519.48" x2="50.6" y2="519.48" stroke="#333" stroke-width="1" />
<line x1="48.8" y1="526.15" x2="50.6" y2="526.15" stroke="#333" stroke-width="1" />
<line x1="48.8" y1="532.83" x2="50.6" y2="532.83" stroke="#333" stroke-width="1" />
<line x1="48.8" y1="539.5" x2="50.6" y2="539.5" stroke="#333" stroke-width="1" />
<line x1="48.8" y1="546.17" x2="50.6" y2="546.17" stroke="#333" stroke-width="1" />
<line x1="48.8" y1="552.85" x2="50.6" y2="552.85" stroke="#333" stroke-width="1" />
<line x1="48.8" y1="559.52" x2="50.6" y2="559.52" stroke="#333" stroke-width="1" />
<clipPath id="c2"><polygon points="50.6,565.9 50.6,543 51.4,546 52.3,563 55,564 58,563.2 62,564.2 67,564.4 72,564.6 80,564.6 85,563.8 88,560 91,558.5 95,558.5 98,561 102,562.5 106,561 109,557 112,553 114.9,548.9 117,546 119.7,541 121.5,533 123.4,527 125.8,521 127,519 128.3,514.8 129.5,503 130.7,490.5 132,480 133.1,473.5 134.3,472.3 136,478.4 137,474 138,468.6 139.2,463 140.4,458.9 141.5,460 142.9,463.8 144,462 145.5,462 146.5,465 148,478 149,493 151,506 152.6,517 154.5,530 156.3,541.6 158,549 160,556 162.3,563.4 164,565.9 196,565.9"/></clipPath>
<polygon points="50.6,565.9 50.6,543 51.4,546 52.3,563 55,564 58,563.2 62,564.2 67,564.4 72,564.6 80,564.6 85,563.8 88,560 91,558.5 95,558.5 98,561 102,562.5 106,561 109,557 112,553 114.9,548.9 117,546 119.7,541 121.5,533 123.4,527 125.8,521 127,519 128.3,514.8 129.5,503 130.7,490.5 132,480 133.1,473.5 134.3,472.3 136,478.4 137,474 138,468.6 139.2,463 140.4,458.9 141.5,460 142.9,463.8 144,462 145.5,462 146.5,465 148,478 149,493 151,506 152.6,517 154.5,530 156.3,541.6 158,549 160,556 162.3,563.4 164,565.9 196,565.9" fill="#84dff5"/>
<polygon points="50.6,565.9 90,565.9 96,565.9 99,560 101.5,555.5 103.5,555.5 106,560 108,562.5 110,563.4 113.6,558 117.3,555 120,551 122.2,547.6 124,548 125.8,548.9 127.5,544 129.5,536.7 130.7,526 131.9,514.8 133,505 134.3,497.8 136.3,490.5 137,484 138,478.4 139.3,468 140.4,459 141.2,456.5 142,458 143,462 144.5,463 146,456 147.5,450 149.5,446 151.4,443 152.6,446.7 153.8,456 155,468.6 156.2,485 157.5,505 158.8,518 160,529.4 161,540 162.3,551.3 163.5,558 164.8,563.4 166,565.9 196,565.9" fill="#f6a6a6"/>
<polygon points="50.6,565.9 90,565.9 96,565.9 99,560 101.5,555.5 103.5,555.5 106,560 108,562.5 110,563.4 113.6,558 117.3,555 120,551 122.2,547.6 124,548 125.8,548.9 127.5,544 129.5,536.7 130.7,526 131.9,514.8 133,505 134.3,497.8 136.3,490.5 137,484 138,478.4 139.3,468 140.4,459 141.2,456.5 142,458 143,462 144.5,463 146,456 147.5,450 149.5,446 151.4,443 152.6,446.7 153.8,456 155,468.6 156.2,485 157.5,505 158.8,518 160,529.4 161,540 162.3,551.3 163.5,558 164.8,563.4 166,565.9 196,565.9" fill="#97b7cc" clip-path="url(#c2)"/>
<polyline points="50.6,565.9 90,565.9 96,565.9 99,560 101.5,555.5 103.5,555.5 106,560 108,562.5 110,563.4 113.6,558 117.3,555 120,551 122.2,547.6 124,548 125.8,548.9 127.5,544 129.5,536.7 130.7,526 131.9,514.8 133,505 134.3,497.8 136.3,490.5 137,484 138,478.4 139.3,468 140.4,459 141.2,456.5 142,458 143,462 144.5,463 146,456 147.5,450 149.5,446 151.4,443 152.6,446.7 153.8,456 155,468.6 156.2,485 157.5,505 158.8,518 160,529.4 161,540 162.3,551.3 163.5,558 164.8,563.4 166,565.9 196,565.9" fill="none" stroke="#e86a70" stroke-width="1.1"/>
<polyline points="50.6,565.9 90,565.9 96,565.9 99,560 101.5,555.5 103.5,555.5 106,560 108,562.5 110,563.4 113.6,558 117.3,555 120,551 122.2,547.6 124,548 125.8,548.9 127.5,544 129.5,536.7 130.7,526 131.9,514.8 133,505 134.3,497.8 136.3,490.5 137,484 138,478.4 139.3,468 140.4,459 141.2,456.5 142,458 143,462 144.5,463 146,456 147.5,450 149.5,446 151.4,443 152.6,446.7 153.8,456 155,468.6 156.2,485 157.5,505 158.8,518 160,529.4 161,540 162.3,551.3 163.5,558 164.8,563.4 166,565.9 196,565.9" fill="none" stroke="#6f8fb0" stroke-width="1.1" clip-path="url(#c2)"/>
<polyline points="50.6,565.9 50.6,543 51.4,546 52.3,563 55,564 58,563.2 62,564.2 67,564.4 72,564.6 80,564.6 85,563.8 88,560 91,558.5 95,558.5 98,561 102,562.5 106,561 109,557 112,553 114.9,548.9 117,546 119.7,541 121.5,533 123.4,527 125.8,521 127,519 128.3,514.8 129.5,503 130.7,490.5 132,480 133.1,473.5 134.3,472.3 136,478.4 137,474 138,468.6 139.2,463 140.4,458.9 141.5,460 142.9,463.8 144,462 145.5,462 146.5,465 148,478 149,493 151,506 152.6,517 154.5,530 156.3,541.6 158,549 160,556 162.3,563.4 164,565.9 196,565.9" fill="none" stroke="#3cc6e2" stroke-width="1.1"/>
<line x1="50.6" y1="566.7" x2="196.3" y2="566.7" stroke="#2d6570" stroke-width="1.0" />
<line x1="58.5" y1="566.2" x2="58.5" y2="570.2" stroke="#333" stroke-width="1.3" />
<line x1="108.5" y1="566.2" x2="108.5" y2="570.2" stroke="#333" stroke-width="1.3" />
<line x1="147.5" y1="566.2" x2="147.5" y2="570.2" stroke="#333" stroke-width="1.3" />
<line x1="181.5" y1="566.2" x2="181.5" y2="570.2" stroke="#333" stroke-width="1.3" />
<line x1="120.24" y1="566.2" x2="120.24" y2="568.4" stroke="#333" stroke-width="0.9" />
<line x1="127.11" y1="566.2" x2="127.11" y2="568.4" stroke="#333" stroke-width="0.9" />
<line x1="131.98" y1="566.2" x2="131.98" y2="568.4" stroke="#333" stroke-width="0.9" />
<line x1="135.76" y1="566.2" x2="135.76" y2="568.4" stroke="#333" stroke-width="0.9" />
<line x1="138.85" y1="566.2" x2="138.85" y2="568.4" stroke="#333" stroke-width="0.9" />
<line x1="141.46" y1="566.2" x2="141.46" y2="568.4" stroke="#333" stroke-width="0.9" />
<line x1="143.72" y1="566.2" x2="143.72" y2="568.4" stroke="#333" stroke-width="0.9" />
<line x1="145.72" y1="566.2" x2="145.72" y2="568.4" stroke="#333" stroke-width="0.9" />
<line x1="157.74" y1="566.2" x2="157.74" y2="568.4" stroke="#333" stroke-width="0.9" />
<line x1="163.72" y1="566.2" x2="163.72" y2="568.4" stroke="#333" stroke-width="0.9" />
<line x1="167.97" y1="566.2" x2="167.97" y2="568.4" stroke="#333" stroke-width="0.9" />
<line x1="171.26" y1="566.2" x2="171.26" y2="568.4" stroke="#333" stroke-width="0.9" />
<line x1="173.96" y1="566.2" x2="173.96" y2="568.4" stroke="#333" stroke-width="0.9" />
<line x1="176.23" y1="566.2" x2="176.23" y2="568.4" stroke="#333" stroke-width="0.9" />
<line x1="178.21" y1="566.2" x2="178.21" y2="568.4" stroke="#333" stroke-width="0.9" />
<line x1="179.94" y1="566.2" x2="179.94" y2="568.4" stroke="#333" stroke-width="0.9" />
<line x1="64" y1="566.2" x2="64" y2="568.2" stroke="#333" stroke-width="0.8" />
<line x1="68" y1="566.2" x2="68" y2="568.2" stroke="#333" stroke-width="0.8" />
<line x1="71" y1="566.2" x2="71" y2="568.2" stroke="#333" stroke-width="0.8" />
<line x1="74" y1="566.2" x2="74" y2="568.2" stroke="#333" stroke-width="0.8" />
<line x1="76.5" y1="566.2" x2="76.5" y2="568.2" stroke="#333" stroke-width="0.8" />
<line x1="79" y1="566.2" x2="79" y2="568.2" stroke="#333" stroke-width="0.8" />
<line x1="87" y1="566.2" x2="87" y2="568.2" stroke="#333" stroke-width="0.8" />
<line x1="89.5" y1="566.2" x2="89.5" y2="568.2" stroke="#333" stroke-width="0.8" />
<line x1="92" y1="566.2" x2="92" y2="568.2" stroke="#333" stroke-width="0.8" />
<line x1="95" y1="566.2" x2="95" y2="568.2" stroke="#333" stroke-width="0.8" />
<line x1="98" y1="566.2" x2="98" y2="568.2" stroke="#333" stroke-width="0.8" />
<line x1="102" y1="566.2" x2="102" y2="568.2" stroke="#333" stroke-width="0.8" />
<rect x="80" y="566.2" width="6" height="3" fill="#111" stroke="none" stroke-width="1" />
<text x="60.9" y="585.4" font-size="7" text-anchor="middle" fill="#333">-10<tspan font-size="6.2" dx="0.3" dy="-5.6">3</tspan></text>
<text x="110.9" y="585.4" font-size="7" text-anchor="middle" fill="#333">10<tspan font-size="6.2" dx="0.3" dy="-5.6">3</tspan></text>
<text x="149.9" y="585.4" font-size="7" text-anchor="middle" fill="#333">10<tspan font-size="6.2" dx="0.3" dy="-5.6">4</tspan></text>
<text x="183.9" y="585.4" font-size="7" text-anchor="middle" fill="#333">10<tspan font-size="6.2" dx="0.3" dy="-5.6">5</tspan></text>
<text x="83" y="585.4" font-size="7" text-anchor="middle" font-weight="normal" fill="#333" >0</text>
<text x="102.4" y="604" font-size="15" text-anchor="start" font-weight="normal" fill="#000" >CD86</text>
<line x1="272.5" y1="235.2" x2="272.5" y2="372.4" stroke="#c4c4c4" stroke-width="1" />
<line x1="272.5" y1="368.9" x2="494" y2="368.9" stroke="#c4c4c4" stroke-width="1" />
<line x1="267.5" y1="235.7" x2="272.5" y2="235.7" stroke="#c4c4c4" stroke-width="1" />
<text x="262.4" y="238.9" font-size="9.6" text-anchor="end" font-weight="normal" fill="#262626" stroke="#262626" stroke-width="0.15">50000</text>
<line x1="267.5" y1="262.34" x2="272.5" y2="262.34" stroke="#c4c4c4" stroke-width="1" />
<text x="262.4" y="265.54" font-size="9.6" text-anchor="end" font-weight="normal" fill="#262626" stroke="#262626" stroke-width="0.15">40000</text>
<line x1="267.5" y1="288.98" x2="272.5" y2="288.98" stroke="#c4c4c4" stroke-width="1" />
<text x="262.4" y="292.18" font-size="9.6" text-anchor="end" font-weight="normal" fill="#262626" stroke="#262626" stroke-width="0.15">30000</text>
<line x1="267.5" y1="315.62" x2="272.5" y2="315.62" stroke="#c4c4c4" stroke-width="1" />
<text x="262.4" y="318.82" font-size="9.6" text-anchor="end" font-weight="normal" fill="#262626" stroke="#262626" stroke-width="0.15">20000</text>
<line x1="267.5" y1="342.26" x2="272.5" y2="342.26" stroke="#c4c4c4" stroke-width="1" />
<text x="262.4" y="345.46" font-size="9.6" text-anchor="end" font-weight="normal" fill="#262626" stroke="#262626" stroke-width="0.15">10000</text>
<line x1="267.5" y1="368.9" x2="272.5" y2="368.9" stroke="#c4c4c4" stroke-width="1" />
<text x="262.4" y="372.1" font-size="9.6" text-anchor="end" font-weight="normal" fill="#262626" stroke="#262626" stroke-width="0.15">0</text>
<line x1="346.3" y1="368.9" x2="346.3" y2="372.4" stroke="#c4c4c4" stroke-width="1" />
<line x1="420.1" y1="368.9" x2="420.1" y2="372.4" stroke="#c4c4c4" stroke-width="1" />
<line x1="494" y1="368.9" x2="494" y2="372.4" stroke="#c4c4c4" stroke-width="1" />
<rect x="288" y="306.1" width="21.3" height="62.8" fill="#4f81bd" stroke="none" stroke-width="1" />
<line x1="298.5" y1="297.4" x2="298.5" y2="314.5" stroke="#2a2a2a" stroke-width="0.9" />
<line x1="296.7" y1="297.4" x2="300.3" y2="297.4" stroke="#2a2a2a" stroke-width="0.9" />
<line x1="296.7" y1="314.5" x2="300.3" y2="314.5" stroke="#2a2a2a" stroke-width="0.9" />
<rect x="362" y="299" width="21" height="69.9" fill="#4f81bd" stroke="none" stroke-width="1" />
<line x1="372.5" y1="295.8" x2="372.5" y2="302" stroke="#2a2a2a" stroke-width="0.9" />
<line x1="370.7" y1="295.8" x2="374.3" y2="295.8" stroke="#2a2a2a" stroke-width="0.9" />
<line x1="370.7" y1="302" x2="374.3" y2="302" stroke="#2a2a2a" stroke-width="0.9" />
<rect x="383" y="251.8" width="21" height="117.1" fill="#c0504d" stroke="none" stroke-width="1" />
<line x1="393.5" y1="245.8" x2="393.5" y2="257.5" stroke="#2a2a2a" stroke-width="0.9" />
<line x1="391.7" y1="245.8" x2="395.3" y2="245.8" stroke="#2a2a2a" stroke-width="0.9" />
<line x1="391.7" y1="257.5" x2="395.3" y2="257.5" stroke="#2a2a2a" stroke-width="0.9" />
<rect x="436" y="284" width="21" height="84.9" fill="#4f81bd" stroke="none" stroke-width="1" />
<line x1="446.5" y1="280.8" x2="446.5" y2="287" stroke="#2a2a2a" stroke-width="0.9" />
<line x1="444.7" y1="280.8" x2="448.3" y2="280.8" stroke="#2a2a2a" stroke-width="0.9" />
<line x1="444.7" y1="287" x2="448.3" y2="287" stroke="#2a2a2a" stroke-width="0.9" />
<rect x="457" y="253" width="21" height="115.9" fill="#c0504d" stroke="none" stroke-width="1" />
<line x1="467.5" y1="251.2" x2="467.5" y2="255" stroke="#2a2a2a" stroke-width="0.9" />
<line x1="465.7" y1="251.2" x2="469.3" y2="251.2" stroke="#2a2a2a" stroke-width="0.9" />
<line x1="465.7" y1="255" x2="469.3" y2="255" stroke="#2a2a2a" stroke-width="0.9" />
<circle cx="368.3" cy="237.3" r="1.85" fill="#111"/>
<circle cx="374.1" cy="237.3" r="1.85" fill="#111"/>
<circle cx="450.9" cy="238.2" r="1.85" fill="#111"/>
<circle cx="456.7" cy="238.2" r="1.85" fill="#111"/>
<rect x="284.5" y="243.6" width="5.2" height="5" fill="#4f81bd" stroke="none" stroke-width="1" />
<rect x="284.5" y="260.8" width="5.2" height="5" fill="#c0504d" stroke="none" stroke-width="1" />
<text x="292.5" y="249" font-size="8.4" text-anchor="start" font-weight="normal" fill="#262626" stroke="#262626" stroke-width="0.15">GFP -</text>
<text x="292.5" y="266.2" font-size="8.4" text-anchor="start" font-weight="normal" fill="#262626" stroke="#262626" stroke-width="0.15">GFP+</text>
<text x="316.3" y="362.8" font-size="10.8" text-anchor="start" font-weight="normal" fill="#262626" >N/A</text>
<text x="309.3" y="385.5" font-size="8.7" text-anchor="middle" font-weight="bold" fill="#1a1a1a" stroke="#1a1a1a" stroke-width="0.3">Fresh</text>
<text x="383.4" y="385.5" font-size="8.7" text-anchor="middle" font-weight="bold" fill="#1a1a1a" stroke="#1a1a1a" stroke-width="0.3">Old</text>
<text x="456.6" y="385.5" font-size="8.7" text-anchor="middle" font-weight="bold" fill="#1a1a1a" stroke="#1a1a1a" stroke-width="0.3">IgG-coated</text>
<text transform="translate(228.4,329) rotate(-90)" font-size="15" fill="#000">MHC II MFI</text>
<line x1="272.5" y1="426.3" x2="272.5" y2="563.8" stroke="#c4c4c4" stroke-width="1" />
<line x1="272.5" y1="560.3" x2="494" y2="560.3" stroke="#c4c4c4" stroke-width="1" />
<line x1="267.5" y1="426.8" x2="272.5" y2="426.8" stroke="#c4c4c4" stroke-width="1" />
<text x="262.4" y="430" font-size="9.6" text-anchor="end" font-weight="normal" fill="#262626" stroke="#262626" stroke-width="0.15">10000</text>
<line x1="267.5" y1="453.5" x2="272.5" y2="453.5" stroke="#c4c4c4" stroke-width="1" />
<text x="262.4" y="456.7" font-size="9.6" text-anchor="end" font-weight="normal" fill="#262626" stroke="#262626" stroke-width="0.15">8000</text>
<line x1="267.5" y1="480.2" x2="272.5" y2="480.2" stroke="#c4c4c4" stroke-width="1" />
<text x="262.4" y="483.4" font-size="9.6" text-anchor="end" font-weight="normal" fill="#262626" stroke="#262626" stroke-width="0.15">6000</text>
<line x1="267.5" y1="506.9" x2="272.5" y2="506.9" stroke="#c4c4c4" stroke-width="1" />
<text x="262.4" y="510.1" font-size="9.6" text-anchor="end" font-weight="normal" fill="#262626" stroke="#262626" stroke-width="0.15">4000</text>
<line x1="267.5" y1="533.6" x2="272.5" y2="533.6" stroke="#c4c4c4" stroke-width="1" />
<text x="262.4" y="536.8" font-size="9.6" text-anchor="end" font-weight="normal" fill="#262626" stroke="#262626" stroke-width="0.15">2000</text>
<line x1="267.5" y1="560.3" x2="272.5" y2="560.3" stroke="#c4c4c4" stroke-width="1" />
<text x="262.4" y="563.5" font-size="9.6" text-anchor="end" font-weight="normal" fill="#262626" stroke="#262626" stroke-width="0.15">0</text>
<line x1="346.3" y1="560.3" x2="346.3" y2="563.8" stroke="#c4c4c4" stroke-width="1" />
<line x1="420.1" y1="560.3" x2="420.1" y2="563.8" stroke="#c4c4c4" stroke-width="1" />
<line x1="494" y1="560.3" x2="494" y2="563.8" stroke="#c4c4c4" stroke-width="1" />
<rect x="288.7" y="493" width="21.2" height="67.3" fill="#4f81bd" stroke="none" stroke-width="1" />
<line x1="299.2" y1="487" x2="299.2" y2="499" stroke="#2a2a2a" stroke-width="0.9" />
<line x1="297.4" y1="487" x2="301" y2="487" stroke="#2a2a2a" stroke-width="0.9" />
<line x1="297.4" y1="499" x2="301" y2="499" stroke="#2a2a2a" stroke-width="0.9" />
<rect x="362.5" y="487" width="21.2" height="73.3" fill="#4f81bd" stroke="none" stroke-width="1" />
<line x1="373" y1="485" x2="373" y2="489.5" stroke="#2a2a2a" stroke-width="0.9" />
<line x1="371.2" y1="485" x2="374.8" y2="485" stroke="#2a2a2a" stroke-width="0.9" />
<line x1="371.2" y1="489.5" x2="374.8" y2="489.5" stroke="#2a2a2a" stroke-width="0.9" />
<rect x="383.7" y="454.5" width="20.8" height="105.8" fill="#c0504d" stroke="none" stroke-width="1" />
<line x1="394" y1="452" x2="394" y2="457" stroke="#2a2a2a" stroke-width="0.9" />
<line x1="392.2" y1="452" x2="395.8" y2="452" stroke="#2a2a2a" stroke-width="0.9" />
<line x1="392.2" y1="457" x2="395.8" y2="457" stroke="#2a2a2a" stroke-width="0.9" />
<rect x="436.3" y="487.5" width="21.2" height="72.8" fill="#4f81bd" stroke="none" stroke-width="1" />
<line x1="447" y1="485" x2="447" y2="490" stroke="#2a2a2a" stroke-width="0.9" />
<line x1="445.2" y1="485" x2="448.8" y2="485" stroke="#2a2a2a" stroke-width="0.9" />
<line x1="445.2" y1="490" x2="448.8" y2="490" stroke="#2a2a2a" stroke-width="0.9" />
<rect x="457.5" y="448.8" width="20.8" height="111.5" fill="#c0504d" stroke="none" stroke-width="1" />
<line x1="468" y1="446.8" x2="468" y2="451" stroke="#2a2a2a" stroke-width="0.9" />
<line x1="466.2" y1="446.8" x2="469.8" y2="446.8" stroke="#2a2a2a" stroke-width="0.9" />
<line x1="466.2" y1="451" x2="469.8" y2="451" stroke="#2a2a2a" stroke-width="0.9" />
<circle cx="378" cy="439.1" r="1.85" fill="#111"/>
<circle cx="383.8" cy="439.1" r="1.85" fill="#111"/>
<circle cx="450.7" cy="437.1" r="1.85" fill="#111"/>
<circle cx="456.5" cy="437.1" r="1.85" fill="#111"/>
<rect x="284.5" y="434.7" width="5.2" height="5" fill="#4f81bd" stroke="none" stroke-width="1" />
<rect x="284.5" y="451.9" width="5.2" height="5" fill="#c0504d" stroke="none" stroke-width="1" />
<text x="292.5" y="440.1" font-size="8.4" text-anchor="start" font-weight="normal" fill="#262626" stroke="#262626" stroke-width="0.15">GFP -</text>
<text x="292.5" y="457.3" font-size="8.4" text-anchor="start" font-weight="normal" fill="#262626" stroke="#262626" stroke-width="0.15">GFP+</text>
<text x="316.3" y="556.8" font-size="10.8" text-anchor="start" font-weight="normal" fill="#262626" >N/A</text>
<text x="309.3" y="576.9" font-size="8.7" text-anchor="middle" font-weight="bold" fill="#1a1a1a" stroke="#1a1a1a" stroke-width="0.3">Fresh</text>
<text x="383.4" y="576.9" font-size="8.7" text-anchor="middle" font-weight="bold" fill="#1a1a1a" stroke="#1a1a1a" stroke-width="0.3">Old</text>
<text x="456.6" y="576.9" font-size="8.7" text-anchor="middle" font-weight="bold" fill="#1a1a1a" stroke="#1a1a1a" stroke-width="0.3">IgG-coated</text>
<text transform="translate(228.4,536) rotate(-90)" font-size="15" fill="#000">CD86 MFI</text>
</svg>
</body></html>
